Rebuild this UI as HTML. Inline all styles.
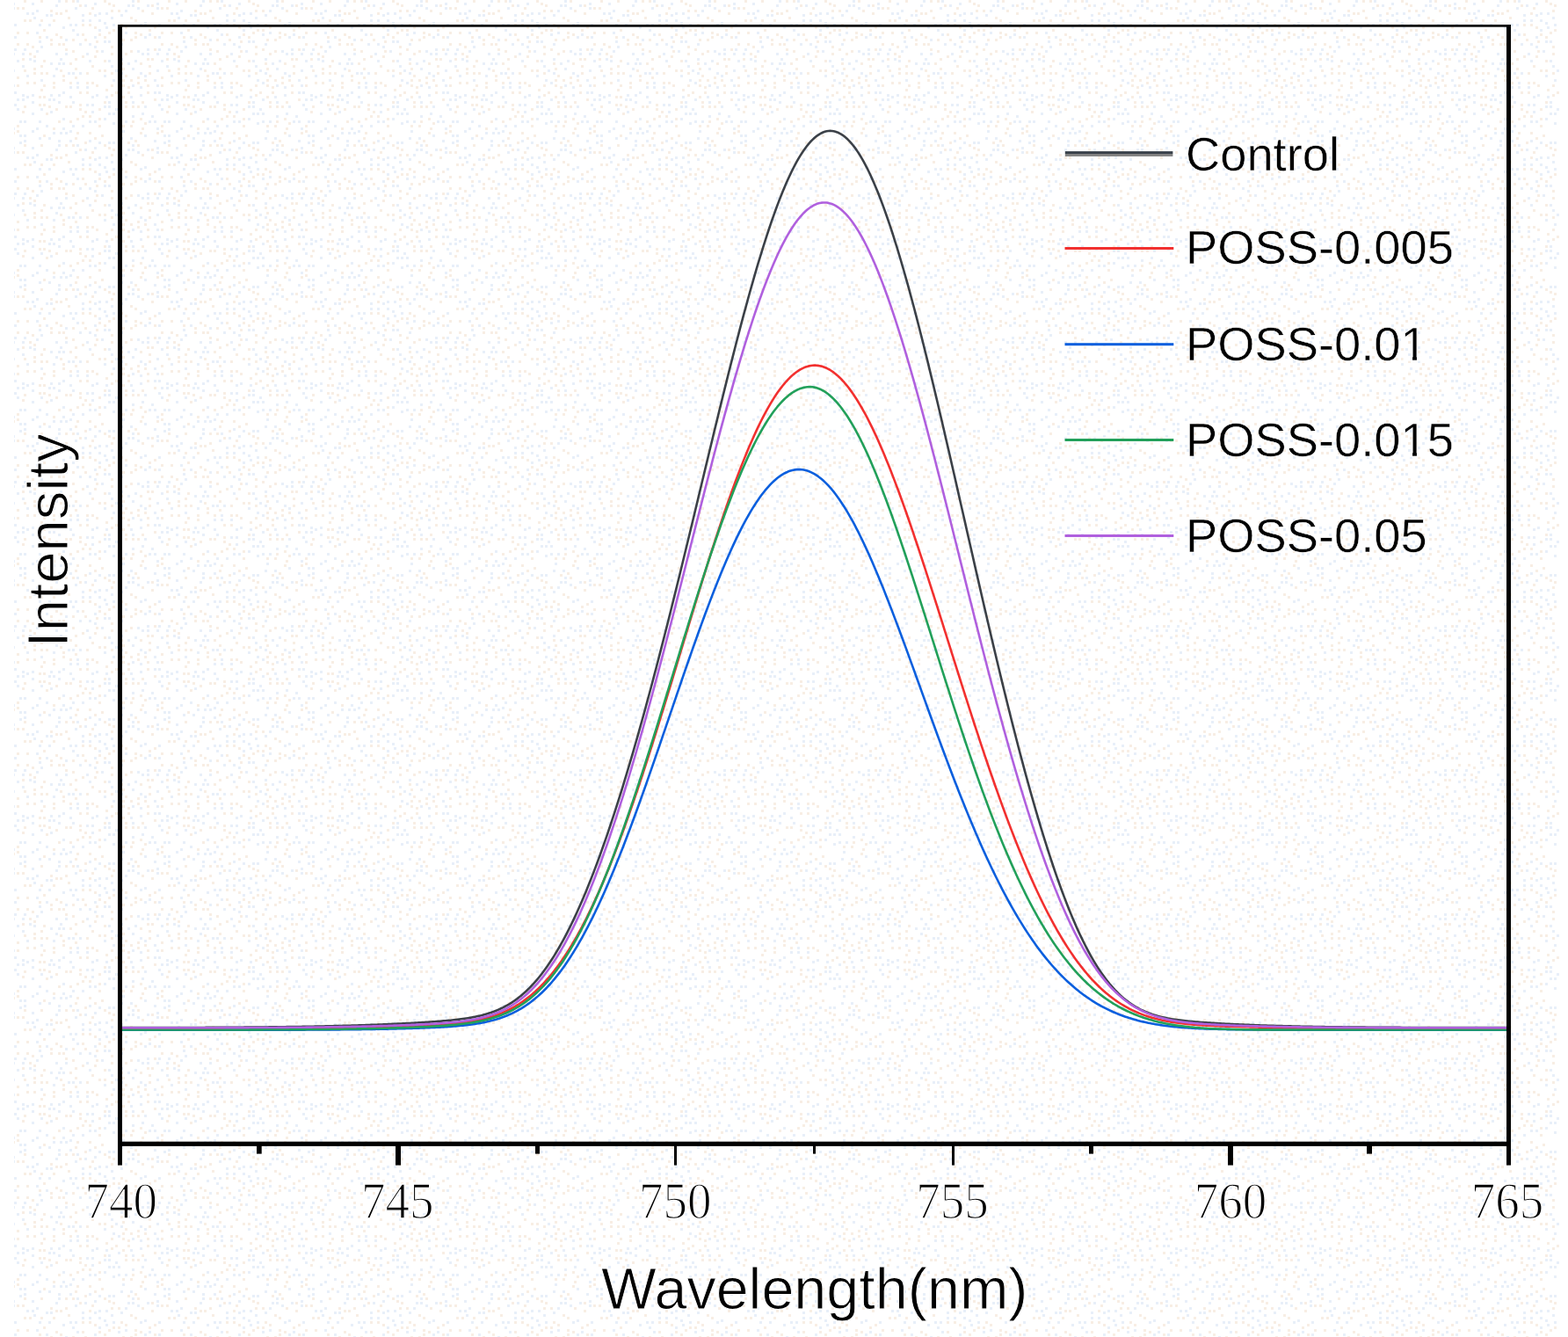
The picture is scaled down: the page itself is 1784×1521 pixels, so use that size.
<!DOCTYPE html>
<html><head><meta charset="utf-8"><title>Intensity vs Wavelength</title>
<style>
html,body{margin:0;padding:0;background:#fff;}
body{width:1784px;height:1521px;overflow:hidden;}
svg{display:block;}
.serif{font-family:"Liberation Serif","Times New Roman",serif;font-size:55px;fill:#000;stroke:#fff;stroke-width:1.3px;paint-order:fill;}
.sans{font-family:"Liberation Sans",Arial,sans-serif;fill:#000;}
</style></head>
<body>
<svg width="1784" height="1521" viewBox="0 0 1784 1521">
<defs><pattern id="dots" width="164" height="164" patternUnits="userSpaceOnUse"><rect x="90" y="123" width="3" height="3" fill="#f8eee4"/><rect x="107" y="63" width="3" height="3" fill="#f8eee4"/><rect x="74" y="55" width="3" height="3" fill="#f8eee4"/><rect x="115" y="153" width="3" height="3" fill="#f8eee4"/><rect x="19" y="96" width="3" height="3" fill="#f8eee4"/><rect x="27" y="120" width="3" height="3" fill="#f8eee4"/><rect x="57" y="49" width="3" height="3" fill="#f8eee4"/><rect x="25" y="107" width="3" height="3" fill="#e8eff9"/><rect x="46" y="74" width="3" height="3" fill="#f8eee4"/><rect x="68" y="41" width="3" height="3" fill="#f8eee4"/><rect x="85" y="77" width="3" height="3" fill="#f8eee4"/><rect x="150" y="77" width="3" height="3" fill="#e8eff9"/><rect x="60" y="150" width="3" height="3" fill="#e8eff9"/><rect x="0" y="153" width="3" height="3" fill="#e8eff9"/><rect x="145" y="98" width="3" height="3" fill="#f8eee4"/><rect x="139" y="109" width="3" height="3" fill="#f8eee4"/><rect x="96" y="161" width="3" height="3" fill="#f8eee4"/><rect x="90" y="49" width="3" height="3" fill="#e8eff9"/><rect x="161" y="145" width="3" height="3" fill="#f8eee4"/><rect x="66" y="115" width="3" height="3" fill="#e8eff9"/><rect x="159" y="98" width="3" height="3" fill="#e8eff9"/><rect x="68" y="66" width="3" height="3" fill="#e8eff9"/><rect x="93" y="16" width="3" height="3" fill="#e8eff9"/><rect x="3" y="96" width="3" height="3" fill="#f8eee4"/><rect x="107" y="52" width="3" height="3" fill="#e8eff9"/><rect x="159" y="134" width="3" height="3" fill="#f8eee4"/><rect x="33" y="60" width="3" height="3" fill="#f8eee4"/><rect x="63" y="77" width="3" height="3" fill="#e8eff9"/><rect x="60" y="93" width="3" height="3" fill="#f8eee4"/><rect x="49" y="153" width="3" height="3" fill="#f8eee4"/><rect x="46" y="90" width="3" height="3" fill="#e8eff9"/><rect x="0" y="41" width="3" height="3" fill="#e8eff9"/><rect x="85" y="66" width="3" height="3" fill="#f8eee4"/><rect x="16" y="55" width="3" height="3" fill="#e8eff9"/><rect x="123" y="115" width="3" height="3" fill="#e8eff9"/><rect x="98" y="93" width="3" height="3" fill="#f8eee4"/><rect x="74" y="120" width="3" height="3" fill="#f8eee4"/><rect x="123" y="3" width="3" height="3" fill="#f8eee4"/><rect x="11" y="104" width="3" height="3" fill="#e8eff9"/><rect x="52" y="128" width="3" height="3" fill="#f8eee4"/><rect x="161" y="60" width="3" height="3" fill="#e8eff9"/><rect x="120" y="14" width="3" height="3" fill="#e8eff9"/><rect x="118" y="79" width="3" height="3" fill="#f8eee4"/><rect x="123" y="46" width="3" height="3" fill="#e8eff9"/><rect x="68" y="79" width="3" height="3" fill="#f8eee4"/><rect x="5" y="74" width="3" height="3" fill="#f8eee4"/><rect x="90" y="82" width="3" height="3" fill="#e8eff9"/><rect x="14" y="96" width="3" height="3" fill="#e8eff9"/><rect x="101" y="14" width="3" height="3" fill="#f8eee4"/><rect x="148" y="109" width="3" height="3" fill="#e8eff9"/><rect x="128" y="128" width="3" height="3" fill="#e8eff9"/><rect x="11" y="112" width="3" height="3" fill="#f8eee4"/><rect x="98" y="60" width="3" height="3" fill="#e8eff9"/><rect x="46" y="101" width="3" height="3" fill="#f8eee4"/><rect x="120" y="30" width="3" height="3" fill="#e8eff9"/><rect x="27" y="79" width="3" height="3" fill="#f8eee4"/><rect x="118" y="85" width="3" height="3" fill="#e8eff9"/><rect x="131" y="79" width="3" height="3" fill="#e8eff9"/><rect x="14" y="79" width="3" height="3" fill="#e8eff9"/><rect x="52" y="142" width="3" height="3" fill="#e8eff9"/><rect x="14" y="3" width="3" height="3" fill="#e8eff9"/><rect x="112" y="142" width="3" height="3" fill="#f8eee4"/><rect x="27" y="55" width="3" height="3" fill="#e8eff9"/><rect x="96" y="44" width="3" height="3" fill="#f8eee4"/><rect x="38" y="93" width="3" height="3" fill="#f8eee4"/><rect x="57" y="71" width="3" height="3" fill="#e8eff9"/><rect x="82" y="0" width="3" height="3" fill="#f8eee4"/><rect x="36" y="107" width="3" height="3" fill="#e8eff9"/><rect x="107" y="137" width="3" height="3" fill="#e8eff9"/><rect x="38" y="82" width="3" height="3" fill="#f8eee4"/><rect x="3" y="5" width="3" height="3" fill="#e8eff9"/><rect x="142" y="137" width="3" height="3" fill="#e8eff9"/><rect x="63" y="5" width="3" height="3" fill="#e8eff9"/><rect x="142" y="85" width="3" height="3" fill="#f8eee4"/><rect x="112" y="38" width="3" height="3" fill="#f8eee4"/><rect x="112" y="33" width="3" height="3" fill="#e8eff9"/><rect x="145" y="161" width="3" height="3" fill="#f8eee4"/><rect x="142" y="60" width="3" height="3" fill="#f8eee4"/><rect x="0" y="120" width="3" height="3" fill="#e8eff9"/><rect x="38" y="19" width="3" height="3" fill="#e8eff9"/><rect x="153" y="41" width="3" height="3" fill="#f8eee4"/><rect x="150" y="131" width="3" height="3" fill="#e8eff9"/><rect x="134" y="11" width="3" height="3" fill="#f8eee4"/><rect x="49" y="109" width="3" height="3" fill="#f8eee4"/><rect x="96" y="5" width="3" height="3" fill="#e8eff9"/><rect x="87" y="98" width="3" height="3" fill="#e8eff9"/><rect x="44" y="118" width="3" height="3" fill="#f8eee4"/><rect x="104" y="8" width="3" height="3" fill="#f8eee4"/><rect x="112" y="134" width="3" height="3" fill="#f8eee4"/><rect x="137" y="71" width="3" height="3" fill="#f8eee4"/><rect x="126" y="52" width="3" height="3" fill="#f8eee4"/><rect x="3" y="66" width="3" height="3" fill="#f8eee4"/><rect x="118" y="115" width="3" height="3" fill="#f8eee4"/><rect x="11" y="137" width="3" height="3" fill="#e8eff9"/><rect x="107" y="41" width="3" height="3" fill="#e8eff9"/><rect x="134" y="137" width="3" height="3" fill="#e8eff9"/><rect x="90" y="104" width="3" height="3" fill="#f8eee4"/><rect x="30" y="85" width="3" height="3" fill="#e8eff9"/><rect x="150" y="0" width="3" height="3" fill="#e8eff9"/><rect x="101" y="137" width="3" height="3" fill="#e8eff9"/><rect x="25" y="112" width="3" height="3" fill="#e8eff9"/><rect x="93" y="142" width="3" height="3" fill="#e8eff9"/><rect x="46" y="0" width="3" height="3" fill="#f8eee4"/><rect x="131" y="123" width="3" height="3" fill="#e8eff9"/><rect x="74" y="0" width="3" height="3" fill="#f8eee4"/><rect x="71" y="71" width="3" height="3" fill="#e8eff9"/><rect x="19" y="49" width="3" height="3" fill="#f8eee4"/><rect x="38" y="77" width="3" height="3" fill="#f8eee4"/><rect x="66" y="159" width="3" height="3" fill="#e8eff9"/><rect x="74" y="11" width="3" height="3" fill="#f8eee4"/><rect x="8" y="5" width="3" height="3" fill="#f8eee4"/><rect x="139" y="90" width="3" height="3" fill="#f8eee4"/><rect x="150" y="137" width="3" height="3" fill="#f8eee4"/><rect x="77" y="19" width="3" height="3" fill="#f8eee4"/><rect x="0" y="25" width="3" height="3" fill="#e8eff9"/><rect x="126" y="19" width="3" height="3" fill="#e8eff9"/><rect x="101" y="131" width="3" height="3" fill="#f8eee4"/><rect x="30" y="36" width="3" height="3" fill="#f8eee4"/><rect x="30" y="49" width="3" height="3" fill="#f8eee4"/><rect x="112" y="123" width="3" height="3" fill="#f8eee4"/><rect x="87" y="93" width="3" height="3" fill="#e8eff9"/><rect x="118" y="46" width="3" height="3" fill="#e8eff9"/><rect x="126" y="96" width="3" height="3" fill="#f8eee4"/><rect x="36" y="115" width="3" height="3" fill="#e8eff9"/><rect x="93" y="131" width="3" height="3" fill="#f8eee4"/><rect x="27" y="137" width="3" height="3" fill="#e8eff9"/><rect x="55" y="120" width="3" height="3" fill="#f8eee4"/><rect x="87" y="150" width="3" height="3" fill="#f8eee4"/><rect x="156" y="87" width="3" height="3" fill="#f8eee4"/><rect x="107" y="156" width="3" height="3" fill="#f8eee4"/><rect x="82" y="115" width="3" height="3" fill="#e8eff9"/><rect x="27" y="22" width="3" height="3" fill="#f8eee4"/><rect x="139" y="148" width="3" height="3" fill="#e8eff9"/><rect x="46" y="82" width="3" height="3" fill="#f8eee4"/><rect x="137" y="16" width="3" height="3" fill="#e8eff9"/><rect x="60" y="22" width="3" height="3" fill="#f8eee4"/><rect x="8" y="131" width="3" height="3" fill="#e8eff9"/><rect x="134" y="93" width="3" height="3" fill="#e8eff9"/><rect x="36" y="52" width="3" height="3" fill="#f8eee4"/><rect x="25" y="8" width="3" height="3" fill="#f8eee4"/><rect x="159" y="82" width="3" height="3" fill="#e8eff9"/><rect x="8" y="14" width="3" height="3" fill="#f8eee4"/><rect x="82" y="57" width="3" height="3" fill="#f8eee4"/><rect x="0" y="85" width="3" height="3" fill="#e8eff9"/><rect x="145" y="71" width="3" height="3" fill="#e8eff9"/><rect x="142" y="36" width="3" height="3" fill="#e8eff9"/><rect x="96" y="126" width="3" height="3" fill="#f8eee4"/><rect x="101" y="150" width="3" height="3" fill="#f8eee4"/><rect x="90" y="118" width="3" height="3" fill="#f8eee4"/><rect x="139" y="77" width="3" height="3" fill="#f8eee4"/><rect x="93" y="22" width="3" height="3" fill="#e8eff9"/><rect x="14" y="145" width="3" height="3" fill="#e8eff9"/><rect x="142" y="11" width="3" height="3" fill="#e8eff9"/><rect x="19" y="87" width="3" height="3" fill="#f8eee4"/><rect x="118" y="68" width="3" height="3" fill="#f8eee4"/><rect x="30" y="109" width="3" height="3" fill="#e8eff9"/><rect x="85" y="27" width="3" height="3" fill="#e8eff9"/><rect x="63" y="38" width="3" height="3" fill="#f8eee4"/><rect x="44" y="27" width="3" height="3" fill="#e8eff9"/><rect x="16" y="41" width="3" height="3" fill="#e8eff9"/><rect x="87" y="134" width="3" height="3" fill="#f8eee4"/><rect x="82" y="44" width="3" height="3" fill="#f8eee4"/><rect x="79" y="109" width="3" height="3" fill="#e8eff9"/><rect x="82" y="82" width="3" height="3" fill="#e8eff9"/><rect x="120" y="101" width="3" height="3" fill="#f8eee4"/><rect x="150" y="96" width="3" height="3" fill="#e8eff9"/><rect x="128" y="90" width="3" height="3" fill="#e8eff9"/><rect x="137" y="156" width="3" height="3" fill="#e8eff9"/><rect x="139" y="44" width="3" height="3" fill="#f8eee4"/><rect x="159" y="27" width="3" height="3" fill="#e8eff9"/><rect x="128" y="27" width="3" height="3" fill="#e8eff9"/><rect x="36" y="128" width="3" height="3" fill="#e8eff9"/><rect x="57" y="16" width="3" height="3" fill="#e8eff9"/><rect x="148" y="90" width="3" height="3" fill="#f8eee4"/><rect x="126" y="107" width="3" height="3" fill="#f8eee4"/><rect x="101" y="159" width="3" height="3" fill="#e8eff9"/><rect x="3" y="55" width="3" height="3" fill="#e8eff9"/><rect x="41" y="36" width="3" height="3" fill="#e8eff9"/><rect x="25" y="60" width="3" height="3" fill="#e8eff9"/><rect x="14" y="150" width="3" height="3" fill="#f8eee4"/><rect x="109" y="96" width="3" height="3" fill="#f8eee4"/><rect x="55" y="156" width="3" height="3" fill="#e8eff9"/><rect x="148" y="44" width="3" height="3" fill="#f8eee4"/><rect x="66" y="71" width="3" height="3" fill="#e8eff9"/><rect x="153" y="68" width="3" height="3" fill="#e8eff9"/><rect x="36" y="14" width="3" height="3" fill="#e8eff9"/><rect x="19" y="112" width="3" height="3" fill="#e8eff9"/><rect x="71" y="30" width="3" height="3" fill="#e8eff9"/><rect x="66" y="0" width="3" height="3" fill="#e8eff9"/><rect x="104" y="93" width="3" height="3" fill="#f8eee4"/><rect x="19" y="8" width="3" height="3" fill="#f8eee4"/><rect x="57" y="126" width="3" height="3" fill="#e8eff9"/><rect x="27" y="0" width="3" height="3" fill="#f8eee4"/><rect x="109" y="107" width="3" height="3" fill="#e8eff9"/><rect x="5" y="38" width="3" height="3" fill="#e8eff9"/><rect x="66" y="49" width="3" height="3" fill="#f8eee4"/><rect x="19" y="36" width="3" height="3" fill="#f8eee4"/><rect x="11" y="41" width="3" height="3" fill="#f8eee4"/><rect x="14" y="8" width="3" height="3" fill="#e8eff9"/><rect x="156" y="120" width="3" height="3" fill="#f8eee4"/><rect x="126" y="82" width="3" height="3" fill="#f8eee4"/><rect x="107" y="30" width="3" height="3" fill="#f8eee4"/><rect x="36" y="148" width="3" height="3" fill="#e8eff9"/><rect x="63" y="60" width="3" height="3" fill="#e8eff9"/><rect x="107" y="16" width="3" height="3" fill="#e8eff9"/><rect x="134" y="38" width="3" height="3" fill="#e8eff9"/><rect x="33" y="66" width="3" height="3" fill="#e8eff9"/><rect x="109" y="57" width="3" height="3" fill="#f8eee4"/><rect x="134" y="112" width="3" height="3" fill="#e8eff9"/><rect x="150" y="5" width="3" height="3" fill="#e8eff9"/><rect x="3" y="104" width="3" height="3" fill="#f8eee4"/><rect x="44" y="156" width="3" height="3" fill="#e8eff9"/><rect x="68" y="150" width="3" height="3" fill="#e8eff9"/><rect x="145" y="5" width="3" height="3" fill="#e8eff9"/><rect x="112" y="79" width="3" height="3" fill="#f8eee4"/><rect x="60" y="85" width="3" height="3" fill="#e8eff9"/><rect x="90" y="5" width="3" height="3" fill="#f8eee4"/><rect x="159" y="107" width="3" height="3" fill="#e8eff9"/><rect x="44" y="137" width="3" height="3" fill="#e8eff9"/><rect x="11" y="90" width="3" height="3" fill="#e8eff9"/><rect x="101" y="27" width="3" height="3" fill="#f8eee4"/><rect x="27" y="153" width="3" height="3" fill="#e8eff9"/><rect x="5" y="82" width="3" height="3" fill="#f8eee4"/><rect x="128" y="33" width="3" height="3" fill="#f8eee4"/><rect x="22" y="153" width="3" height="3" fill="#e8eff9"/><rect x="79" y="98" width="3" height="3" fill="#e8eff9"/><rect x="148" y="57" width="3" height="3" fill="#f8eee4"/><rect x="60" y="112" width="3" height="3" fill="#e8eff9"/><rect x="33" y="22" width="3" height="3" fill="#f8eee4"/><rect x="123" y="120" width="3" height="3" fill="#e8eff9"/><rect x="128" y="139" width="3" height="3" fill="#e8eff9"/><rect x="123" y="128" width="3" height="3" fill="#e8eff9"/><rect x="25" y="126" width="3" height="3" fill="#f8eee4"/><rect x="19" y="68" width="3" height="3" fill="#e8eff9"/><rect x="49" y="33" width="3" height="3" fill="#f8eee4"/><rect x="93" y="27" width="3" height="3" fill="#f8eee4"/><rect x="71" y="85" width="3" height="3" fill="#f8eee4"/><rect x="11" y="55" width="3" height="3" fill="#f8eee4"/><rect x="128" y="5" width="3" height="3" fill="#f8eee4"/><rect x="104" y="118" width="3" height="3" fill="#e8eff9"/><rect x="38" y="63" width="3" height="3" fill="#f8eee4"/><rect x="112" y="22" width="3" height="3" fill="#e8eff9"/><rect x="19" y="148" width="3" height="3" fill="#f8eee4"/><rect x="150" y="115" width="3" height="3" fill="#e8eff9"/><rect x="79" y="159" width="3" height="3" fill="#e8eff9"/><rect x="93" y="38" width="3" height="3" fill="#f8eee4"/><rect x="16" y="118" width="3" height="3" fill="#e8eff9"/><rect x="41" y="57" width="3" height="3" fill="#e8eff9"/><rect x="137" y="27" width="3" height="3" fill="#f8eee4"/><rect x="22" y="137" width="3" height="3" fill="#e8eff9"/><rect x="46" y="123" width="3" height="3" fill="#e8eff9"/><rect x="46" y="22" width="3" height="3" fill="#f8eee4"/><rect x="0" y="139" width="3" height="3" fill="#f8eee4"/><rect x="118" y="0" width="3" height="3" fill="#f8eee4"/><rect x="87" y="38" width="3" height="3" fill="#e8eff9"/><rect x="79" y="71" width="3" height="3" fill="#f8eee4"/><rect x="30" y="14" width="3" height="3" fill="#e8eff9"/><rect x="150" y="120" width="3" height="3" fill="#f8eee4"/><rect x="71" y="90" width="3" height="3" fill="#f8eee4"/><rect x="104" y="126" width="3" height="3" fill="#e8eff9"/><rect x="120" y="109" width="3" height="3" fill="#e8eff9"/><rect x="148" y="142" width="3" height="3" fill="#f8eee4"/><rect x="156" y="8" width="3" height="3" fill="#e8eff9"/><rect x="126" y="60" width="3" height="3" fill="#f8eee4"/><rect x="57" y="107" width="3" height="3" fill="#e8eff9"/><rect x="74" y="150" width="3" height="3" fill="#e8eff9"/><rect x="44" y="41" width="3" height="3" fill="#f8eee4"/><rect x="161" y="11" width="3" height="3" fill="#f8eee4"/><rect x="153" y="36" width="3" height="3" fill="#f8eee4"/><rect x="30" y="93" width="3" height="3" fill="#f8eee4"/><rect x="153" y="159" width="3" height="3" fill="#f8eee4"/><rect x="22" y="161" width="3" height="3" fill="#e8eff9"/><rect x="98" y="82" width="3" height="3" fill="#f8eee4"/><rect x="87" y="0" width="3" height="3" fill="#e8eff9"/><rect x="82" y="33" width="3" height="3" fill="#e8eff9"/><rect x="44" y="46" width="3" height="3" fill="#e8eff9"/><rect x="11" y="159" width="3" height="3" fill="#e8eff9"/><rect x="115" y="57" width="3" height="3" fill="#e8eff9"/><rect x="68" y="14" width="3" height="3" fill="#f8eee4"/><rect x="159" y="150" width="3" height="3" fill="#f8eee4"/><rect x="128" y="161" width="3" height="3" fill="#e8eff9"/><rect x="139" y="96" width="3" height="3" fill="#f8eee4"/><rect x="107" y="3" width="3" height="3" fill="#e8eff9"/><rect x="98" y="104" width="3" height="3" fill="#f8eee4"/><rect x="112" y="161" width="3" height="3" fill="#e8eff9"/><rect x="123" y="161" width="3" height="3" fill="#e8eff9"/><rect x="71" y="145" width="3" height="3" fill="#e8eff9"/><rect x="74" y="60" width="3" height="3" fill="#e8eff9"/><rect x="85" y="8" width="3" height="3" fill="#e8eff9"/><rect x="44" y="109" width="3" height="3" fill="#f8eee4"/><rect x="101" y="68" width="3" height="3" fill="#e8eff9"/><rect x="52" y="41" width="3" height="3" fill="#e8eff9"/><rect x="52" y="82" width="3" height="3" fill="#f8eee4"/><rect x="123" y="68" width="3" height="3" fill="#e8eff9"/><rect x="118" y="25" width="3" height="3" fill="#e8eff9"/><rect x="79" y="120" width="3" height="3" fill="#f8eee4"/><rect x="145" y="104" width="3" height="3" fill="#f8eee4"/><rect x="112" y="14" width="3" height="3" fill="#e8eff9"/><rect x="5" y="137" width="3" height="3" fill="#e8eff9"/><rect x="16" y="27" width="3" height="3" fill="#e8eff9"/><rect x="79" y="148" width="3" height="3" fill="#e8eff9"/><rect x="66" y="137" width="3" height="3" fill="#f8eee4"/><rect x="66" y="107" width="3" height="3" fill="#e8eff9"/><rect x="3" y="60" width="3" height="3" fill="#e8eff9"/><rect x="74" y="44" width="3" height="3" fill="#e8eff9"/><rect x="161" y="115" width="3" height="3" fill="#f8eee4"/><rect x="159" y="38" width="3" height="3" fill="#f8eee4"/><rect x="79" y="27" width="3" height="3" fill="#e8eff9"/><rect x="142" y="30" width="3" height="3" fill="#f8eee4"/><rect x="14" y="60" width="3" height="3" fill="#e8eff9"/><rect x="25" y="66" width="3" height="3" fill="#f8eee4"/><rect x="104" y="74" width="3" height="3" fill="#f8eee4"/><rect x="98" y="118" width="3" height="3" fill="#e8eff9"/><rect x="71" y="49" width="3" height="3" fill="#f8eee4"/><rect x="57" y="44" width="3" height="3" fill="#f8eee4"/><rect x="101" y="22" width="3" height="3" fill="#e8eff9"/><rect x="126" y="11" width="3" height="3" fill="#f8eee4"/><rect x="55" y="27" width="3" height="3" fill="#e8eff9"/><rect x="161" y="128" width="3" height="3" fill="#e8eff9"/><rect x="71" y="134" width="3" height="3" fill="#e8eff9"/><rect x="82" y="142" width="3" height="3" fill="#e8eff9"/><rect x="8" y="66" width="3" height="3" fill="#f8eee4"/><rect x="153" y="22" width="3" height="3" fill="#f8eee4"/><rect x="85" y="156" width="3" height="3" fill="#f8eee4"/><rect x="134" y="55" width="3" height="3" fill="#f8eee4"/><rect x="79" y="137" width="3" height="3" fill="#f8eee4"/><rect x="63" y="123" width="3" height="3" fill="#f8eee4"/><rect x="0" y="90" width="3" height="3" fill="#f8eee4"/><rect x="27" y="159" width="3" height="3" fill="#e8eff9"/><rect x="142" y="115" width="3" height="3" fill="#f8eee4"/><rect x="25" y="74" width="3" height="3" fill="#e8eff9"/><rect x="36" y="3" width="3" height="3" fill="#e8eff9"/><rect x="139" y="142" width="3" height="3" fill="#f8eee4"/><rect x="148" y="156" width="3" height="3" fill="#e8eff9"/><rect x="11" y="30" width="3" height="3" fill="#f8eee4"/><rect x="85" y="87" width="3" height="3" fill="#f8eee4"/><rect x="19" y="123" width="3" height="3" fill="#e8eff9"/><rect x="156" y="57" width="3" height="3" fill="#e8eff9"/><rect x="134" y="128" width="3" height="3" fill="#e8eff9"/><rect x="142" y="120" width="3" height="3" fill="#f8eee4"/><rect x="137" y="82" width="3" height="3" fill="#e8eff9"/><rect x="93" y="63" width="3" height="3" fill="#f8eee4"/><rect x="52" y="16" width="3" height="3" fill="#e8eff9"/><rect x="159" y="71" width="3" height="3" fill="#f8eee4"/><rect x="19" y="142" width="3" height="3" fill="#f8eee4"/><rect x="104" y="109" width="3" height="3" fill="#e8eff9"/><rect x="137" y="49" width="3" height="3" fill="#e8eff9"/><rect x="41" y="145" width="3" height="3" fill="#e8eff9"/><rect x="156" y="0" width="3" height="3" fill="#f8eee4"/><rect x="123" y="36" width="3" height="3" fill="#f8eee4"/><rect x="57" y="11" width="3" height="3" fill="#f8eee4"/><rect x="126" y="74" width="3" height="3" fill="#e8eff9"/><rect x="55" y="112" width="3" height="3" fill="#e8eff9"/><rect x="49" y="118" width="3" height="3" fill="#f8eee4"/><rect x="77" y="82" width="3" height="3" fill="#e8eff9"/><rect x="118" y="41" width="3" height="3" fill="#f8eee4"/><rect x="46" y="52" width="3" height="3" fill="#e8eff9"/><rect x="98" y="98" width="3" height="3" fill="#e8eff9"/><rect x="41" y="11" width="3" height="3" fill="#e8eff9"/><rect x="101" y="49" width="3" height="3" fill="#e8eff9"/><rect x="63" y="14" width="3" height="3" fill="#f8eee4"/><rect x="49" y="96" width="3" height="3" fill="#f8eee4"/><rect x="79" y="93" width="3" height="3" fill="#f8eee4"/><rect x="71" y="104" width="3" height="3" fill="#e8eff9"/><rect x="137" y="66" width="3" height="3" fill="#e8eff9"/><rect x="131" y="104" width="3" height="3" fill="#f8eee4"/><rect x="49" y="68" width="3" height="3" fill="#f8eee4"/><rect x="38" y="68" width="3" height="3" fill="#e8eff9"/><rect x="16" y="104" width="3" height="3" fill="#e8eff9"/><rect x="148" y="19" width="3" height="3" fill="#f8eee4"/><rect x="118" y="134" width="3" height="3" fill="#e8eff9"/><rect x="156" y="93" width="3" height="3" fill="#f8eee4"/><rect x="60" y="98" width="3" height="3" fill="#f8eee4"/><rect x="5" y="33" width="3" height="3" fill="#f8eee4"/><rect x="134" y="33" width="3" height="3" fill="#f8eee4"/><rect x="60" y="145" width="3" height="3" fill="#f8eee4"/><rect x="109" y="46" width="3" height="3" fill="#f8eee4"/><rect x="118" y="120" width="3" height="3" fill="#e8eff9"/></pattern></defs>
<rect width="1784" height="1521" fill="#fff"/>
<rect x="16" y="0" width="1758" height="1521" fill="url(#dots)"/>
<g id="curves">
<path d="M136.5,1169.14 L138.5,1169.14 L140.5,1169.14 L142.5,1169.14 L144.5,1169.13 L146.5,1169.13 L148.5,1169.13 L150.5,1169.13 L152.5,1169.12 L154.5,1169.12 L156.5,1169.12 L158.5,1169.12 L160.5,1169.11 L162.5,1169.11 L164.5,1169.11 L166.5,1169.10 L168.5,1169.10 L170.5,1169.10 L172.5,1169.09 L174.5,1169.09 L176.5,1169.09 L178.5,1169.08 L180.5,1169.08 L182.5,1169.08 L184.5,1169.07 L186.5,1169.07 L188.5,1169.06 L190.5,1169.06 L192.5,1169.05 L194.5,1169.05 L196.5,1169.04 L198.5,1169.04 L200.5,1169.03 L202.5,1169.03 L204.5,1169.02 L206.5,1169.02 L208.5,1169.01 L210.5,1169.01 L212.5,1169.00 L214.5,1168.99 L216.5,1168.99 L218.5,1168.98 L220.5,1168.97 L222.5,1168.97 L224.5,1168.96 L226.5,1168.95 L228.5,1168.94 L230.5,1168.94 L232.5,1168.93 L234.5,1168.92 L236.5,1168.91 L238.5,1168.90 L240.5,1168.89 L242.5,1168.88 L244.5,1168.87 L246.5,1168.86 L248.5,1168.85 L250.5,1168.84 L252.5,1168.83 L254.5,1168.82 L256.5,1168.81 L258.5,1168.80 L260.5,1168.79 L262.5,1168.78 L264.5,1168.76 L266.5,1168.75 L268.5,1168.74 L270.5,1168.72 L272.5,1168.71 L274.5,1168.70 L276.5,1168.68 L278.5,1168.67 L280.5,1168.65 L282.5,1168.64 L284.5,1168.62 L286.5,1168.60 L288.5,1168.59 L290.5,1168.57 L292.5,1168.55 L294.5,1168.53 L296.5,1168.51 L298.5,1168.49 L300.5,1168.47 L302.5,1168.45 L304.5,1168.43 L306.5,1168.41 L308.5,1168.39 L310.5,1168.37 L312.5,1168.35 L314.5,1168.32 L316.5,1168.30 L318.5,1168.28 L320.5,1168.25 L322.5,1168.22 L324.5,1168.20 L326.5,1168.17 L328.5,1168.14 L330.5,1168.12 L332.5,1168.09 L334.5,1168.06 L336.5,1168.03 L338.5,1168.00 L340.5,1167.97 L342.5,1167.93 L344.5,1167.90 L346.5,1167.87 L348.5,1167.83 L350.5,1167.80 L352.5,1167.76 L354.5,1167.73 L356.5,1167.69 L358.5,1167.65 L360.5,1167.61 L362.5,1167.57 L364.5,1167.53 L366.5,1167.49 L368.5,1167.45 L370.5,1167.40 L372.5,1167.36 L374.5,1167.31 L376.5,1167.27 L378.5,1167.22 L380.5,1167.17 L382.5,1167.12 L384.5,1167.07 L386.5,1167.02 L388.5,1166.97 L390.5,1166.92 L392.5,1166.86 L394.5,1166.81 L396.5,1166.75 L398.5,1166.69 L400.5,1166.63 L402.5,1166.57 L404.5,1166.51 L406.5,1166.45 L408.5,1166.38 L410.5,1166.32 L412.5,1166.25 L414.5,1166.19 L416.5,1166.12 L418.5,1166.05 L420.5,1165.98 L422.5,1165.90 L424.5,1165.83 L426.5,1165.75 L428.5,1165.68 L430.5,1165.60 L432.5,1165.52 L434.5,1165.44 L436.5,1165.36 L438.5,1165.27 L440.5,1165.19 L442.5,1165.10 L444.5,1165.01 L446.5,1164.92 L448.5,1164.83 L450.5,1164.74 L452.5,1164.64 L454.5,1164.55 L456.5,1164.45 L458.5,1164.35 L460.5,1164.25 L462.5,1164.14 L464.5,1164.04 L466.5,1163.93 L468.5,1163.82 L470.5,1163.71 L472.5,1163.60 L474.5,1163.48 L476.5,1163.37 L478.5,1163.25 L480.5,1163.12 L482.5,1163.00 L484.5,1162.87 L486.5,1162.74 L488.5,1162.61 L490.5,1162.47 L492.5,1162.33 L494.5,1162.19 L496.5,1162.04 L498.5,1161.89 L500.5,1161.74 L502.5,1161.58 L504.5,1161.41 L506.5,1161.24 L508.5,1161.06 L510.5,1160.88 L512.5,1160.68 L514.5,1160.48 L516.5,1160.27 L518.5,1160.06 L520.5,1159.83 L522.5,1159.59 L524.5,1159.33 L526.5,1159.07 L528.5,1158.79 L530.5,1158.49 L532.5,1158.18 L534.5,1157.85 L536.5,1157.50 L538.5,1157.13 L540.5,1156.73 L542.5,1156.32 L544.5,1155.88 L546.5,1155.41 L548.5,1154.91 L550.5,1154.38 L552.5,1153.83 L554.5,1153.23 L556.5,1152.60 L558.5,1151.94 L560.5,1151.23 L562.5,1150.49 L564.5,1149.69 L566.5,1148.86 L568.5,1147.98 L570.5,1147.04 L572.5,1146.06 L574.5,1145.02 L576.5,1143.93 L578.5,1142.78 L580.5,1141.57 L582.5,1140.30 L584.5,1138.96 L586.5,1137.56 L588.5,1136.10 L590.5,1134.56 L592.5,1132.96 L594.5,1131.28 L596.5,1129.53 L598.5,1127.71 L600.5,1125.81 L602.5,1123.83 L604.5,1121.77 L606.5,1119.63 L608.5,1117.41 L610.5,1115.11 L612.5,1112.72 L614.5,1110.25 L616.5,1107.69 L618.5,1105.04 L620.5,1102.31 L622.5,1099.49 L624.5,1096.58 L626.5,1093.58 L628.5,1090.50 L630.5,1087.32 L632.5,1084.05 L634.5,1080.69 L636.5,1077.24 L638.5,1073.70 L640.5,1070.07 L642.5,1066.35 L644.5,1062.54 L646.5,1058.63 L648.5,1054.64 L650.5,1050.55 L652.5,1046.38 L654.5,1042.11 L656.5,1037.76 L658.5,1033.32 L660.5,1028.78 L662.5,1024.16 L664.5,1019.45 L666.5,1014.66 L668.5,1009.78 L670.5,1004.81 L672.5,999.76 L674.5,994.62 L676.5,989.40 L678.5,984.09 L680.5,978.70 L682.5,973.23 L684.5,967.68 L686.5,962.05 L688.5,956.34 L690.5,950.55 L692.5,944.68 L694.5,938.73 L696.5,932.71 L698.5,926.62 L700.5,920.44 L702.5,914.20 L704.5,907.88 L706.5,901.49 L708.5,895.03 L710.5,888.49 L712.5,881.89 L714.5,875.22 L716.5,868.49 L718.5,861.68 L720.5,854.81 L722.5,847.88 L724.5,840.88 L726.5,833.82 L728.5,826.70 L730.5,819.52 L732.5,812.29 L734.5,804.99 L736.5,797.64 L738.5,790.23 L740.5,782.76 L742.5,775.25 L744.5,767.68 L746.5,760.06 L748.5,752.40 L750.5,744.68 L752.5,736.92 L754.5,729.12 L756.5,721.27 L758.5,713.38 L760.5,705.45 L762.5,697.48 L764.5,689.47 L766.5,681.43 L768.5,673.35 L770.5,665.25 L772.5,657.11 L774.5,648.95 L776.5,640.76 L778.5,632.54 L780.5,624.31 L782.5,616.05 L784.5,607.78 L786.5,599.49 L788.5,591.19 L790.5,582.87 L792.5,574.55 L794.5,566.22 L796.5,557.89 L798.5,549.56 L800.5,541.23 L802.5,532.90 L804.5,524.58 L806.5,516.27 L808.5,507.97 L810.5,499.69 L812.5,491.42 L814.5,483.18 L816.5,474.96 L818.5,466.76 L820.5,458.60 L822.5,450.47 L824.5,442.37 L826.5,434.32 L828.5,426.31 L830.5,418.34 L832.5,410.42 L834.5,402.56 L836.5,394.75 L838.5,387.01 L840.5,379.32 L842.5,371.70 L844.5,364.16 L846.5,356.68 L848.5,349.29 L850.5,341.97 L852.5,334.74 L854.5,327.59 L856.5,320.54 L858.5,313.58 L860.5,306.72 L862.5,299.96 L864.5,293.31 L866.5,286.77 L868.5,280.34 L870.5,274.02 L872.5,267.83 L874.5,261.76 L876.5,255.81 L878.5,249.99 L880.5,244.31 L882.5,238.76 L884.5,233.36 L886.5,228.09 L888.5,222.97 L890.5,218.00 L892.5,213.18 L894.5,208.52 L896.5,204.01 L898.5,199.67 L900.5,195.48 L902.5,191.46 L904.5,187.61 L906.5,183.93 L908.5,180.43 L910.5,177.10 L912.5,173.94 L914.5,170.97 L916.5,168.17 L918.5,165.56 L920.5,163.14 L922.5,160.90 L924.5,158.84 L926.5,156.98 L928.5,155.31 L930.5,153.83 L932.5,152.54 L934.5,151.45 L936.5,150.55 L938.5,149.84 L940.5,149.33 L942.5,149.02 L944.5,148.90 L946.5,148.98 L948.5,149.26 L950.5,149.73 L952.5,150.41 L954.5,151.28 L956.5,152.34 L958.5,153.60 L960.5,155.06 L962.5,156.71 L964.5,158.55 L966.5,160.59 L968.5,162.82 L970.5,165.23 L972.5,167.84 L974.5,170.63 L976.5,173.61 L978.5,176.77 L980.5,180.11 L982.5,183.64 L984.5,187.34 L986.5,191.21 L988.5,195.26 L990.5,199.48 L992.5,203.87 L994.5,208.42 L996.5,213.14 L998.5,218.02 L1000.5,223.06 L1002.5,228.25 L1004.5,233.59 L1006.5,239.09 L1008.5,244.73 L1010.5,250.51 L1012.5,256.44 L1014.5,262.50 L1016.5,268.69 L1018.5,275.02 L1020.5,281.47 L1022.5,288.05 L1024.5,294.75 L1026.5,301.57 L1028.5,308.50 L1030.5,315.54 L1032.5,322.69 L1034.5,329.94 L1036.5,337.30 L1038.5,344.75 L1040.5,352.29 L1042.5,359.93 L1044.5,367.65 L1046.5,375.45 L1048.5,383.34 L1050.5,391.30 L1052.5,399.33 L1054.5,407.43 L1056.5,415.60 L1058.5,423.83 L1060.5,432.12 L1062.5,440.47 L1064.5,448.87 L1066.5,457.32 L1068.5,465.81 L1070.5,474.35 L1072.5,482.93 L1074.5,491.54 L1076.5,500.19 L1078.5,508.86 L1080.5,517.57 L1082.5,526.29 L1084.5,535.04 L1086.5,543.81 L1088.5,552.59 L1090.5,561.38 L1092.5,570.19 L1094.5,579.00 L1096.5,587.81 L1098.5,596.62 L1100.5,605.43 L1102.5,614.24 L1104.5,623.04 L1106.5,631.83 L1108.5,640.61 L1110.5,649.37 L1112.5,658.11 L1114.5,666.84 L1116.5,675.54 L1118.5,684.21 L1120.5,692.86 L1122.5,701.48 L1124.5,710.07 L1126.5,718.62 L1128.5,727.13 L1130.5,735.61 L1132.5,744.04 L1134.5,752.44 L1136.5,760.78 L1138.5,769.08 L1140.5,777.33 L1142.5,785.52 L1144.5,793.66 L1146.5,801.75 L1148.5,809.77 L1150.5,817.74 L1152.5,825.65 L1154.5,833.49 L1156.5,841.26 L1158.5,848.96 L1160.5,856.60 L1162.5,864.16 L1164.5,871.65 L1166.5,879.07 L1168.5,886.40 L1170.5,893.66 L1172.5,900.83 L1174.5,907.93 L1176.5,914.94 L1178.5,921.86 L1180.5,928.69 L1182.5,935.43 L1184.5,942.09 L1186.5,948.65 L1188.5,955.11 L1190.5,961.48 L1192.5,967.76 L1194.5,973.93 L1196.5,980.00 L1198.5,985.98 L1200.5,991.85 L1202.5,997.61 L1204.5,1003.27 L1206.5,1008.83 L1208.5,1014.28 L1210.5,1019.62 L1212.5,1024.85 L1214.5,1029.97 L1216.5,1034.98 L1218.5,1039.88 L1220.5,1044.66 L1222.5,1049.34 L1224.5,1053.90 L1226.5,1058.35 L1228.5,1062.69 L1230.5,1066.91 L1232.5,1071.02 L1234.5,1075.01 L1236.5,1078.89 L1238.5,1082.66 L1240.5,1086.32 L1242.5,1089.86 L1244.5,1093.29 L1246.5,1096.61 L1248.5,1099.83 L1250.5,1102.93 L1252.5,1105.92 L1254.5,1108.81 L1256.5,1111.59 L1258.5,1114.27 L1260.5,1116.84 L1262.5,1119.32 L1264.5,1121.69 L1266.5,1123.97 L1268.5,1126.15 L1270.5,1128.23 L1272.5,1130.23 L1274.5,1132.13 L1276.5,1133.95 L1278.5,1135.68 L1280.5,1137.33 L1282.5,1138.89 L1284.5,1140.38 L1286.5,1141.80 L1288.5,1143.14 L1290.5,1144.41 L1292.5,1145.61 L1294.5,1146.74 L1296.5,1147.82 L1298.5,1148.83 L1300.5,1149.78 L1302.5,1150.68 L1304.5,1151.53 L1306.5,1152.33 L1308.5,1153.07 L1310.5,1153.78 L1312.5,1154.44 L1314.5,1155.06 L1316.5,1155.64 L1318.5,1156.19 L1320.5,1156.70 L1322.5,1157.18 L1324.5,1157.63 L1326.5,1158.06 L1328.5,1158.45 L1330.5,1158.83 L1332.5,1159.18 L1334.5,1159.51 L1336.5,1159.82 L1338.5,1160.11 L1340.5,1160.39 L1342.5,1160.65 L1344.5,1160.90 L1346.5,1161.13 L1348.5,1161.36 L1350.5,1161.57 L1352.5,1161.77 L1354.5,1161.96 L1356.5,1162.15 L1358.5,1162.33 L1360.5,1162.50 L1362.5,1162.66 L1364.5,1162.82 L1366.5,1162.97 L1368.5,1163.12 L1370.5,1163.26 L1372.5,1163.40 L1374.5,1163.53 L1376.5,1163.66 L1378.5,1163.79 L1380.5,1163.92 L1382.5,1164.04 L1384.5,1164.16 L1386.5,1164.27 L1388.5,1164.38 L1390.5,1164.49 L1392.5,1164.60 L1394.5,1164.71 L1396.5,1164.81 L1398.5,1164.91 L1400.5,1165.01 L1402.5,1165.11 L1404.5,1165.21 L1406.5,1165.30 L1408.5,1165.39 L1410.5,1165.48 L1412.5,1165.57 L1414.5,1165.66 L1416.5,1165.74 L1418.5,1165.82 L1420.5,1165.90 L1422.5,1165.98 L1424.5,1166.06 L1426.5,1166.14 L1428.5,1166.21 L1430.5,1166.29 L1432.5,1166.36 L1434.5,1166.43 L1436.5,1166.50 L1438.5,1166.56 L1440.5,1166.63 L1442.5,1166.70 L1444.5,1166.76 L1446.5,1166.82 L1448.5,1166.88 L1450.5,1166.94 L1452.5,1167.00 L1454.5,1167.06 L1456.5,1167.11 L1458.5,1167.16 L1460.5,1167.22 L1462.5,1167.27 L1464.5,1167.32 L1466.5,1167.37 L1468.5,1167.42 L1470.5,1167.47 L1472.5,1167.51 L1474.5,1167.56 L1476.5,1167.60 L1478.5,1167.64 L1480.5,1167.69 L1482.5,1167.73 L1484.5,1167.77 L1486.5,1167.81 L1488.5,1167.84 L1490.5,1167.88 L1492.5,1167.92 L1494.5,1167.95 L1496.5,1167.99 L1498.5,1168.02 L1500.5,1168.06 L1502.5,1168.09 L1504.5,1168.12 L1506.5,1168.15 L1508.5,1168.18 L1510.5,1168.21 L1512.5,1168.24 L1514.5,1168.26 L1516.5,1168.29 L1518.5,1168.32 L1520.5,1168.34 L1522.5,1168.37 L1524.5,1168.39 L1526.5,1168.42 L1528.5,1168.44 L1530.5,1168.46 L1532.5,1168.48 L1534.5,1168.51 L1536.5,1168.53 L1538.5,1168.55 L1540.5,1168.57 L1542.5,1168.59 L1544.5,1168.60 L1546.5,1168.62 L1548.5,1168.64 L1550.5,1168.66 L1552.5,1168.67 L1554.5,1168.69 L1556.5,1168.71 L1558.5,1168.72 L1560.5,1168.74 L1562.5,1168.75 L1564.5,1168.76 L1566.5,1168.78 L1568.5,1168.79 L1570.5,1168.80 L1572.5,1168.82 L1574.5,1168.83 L1576.5,1168.84 L1578.5,1168.85 L1580.5,1168.86 L1582.5,1168.87 L1584.5,1168.88 L1586.5,1168.89 L1588.5,1168.90 L1590.5,1168.91 L1592.5,1168.92 L1594.5,1168.93 L1596.5,1168.94 L1598.5,1168.95 L1600.5,1168.96 L1602.5,1168.97 L1604.5,1168.97 L1606.5,1168.98 L1608.5,1168.99 L1610.5,1169.00 L1612.5,1169.00 L1614.5,1169.01 L1616.5,1169.02 L1618.5,1169.02 L1620.5,1169.03 L1622.5,1169.03 L1624.5,1169.04 L1626.5,1169.04 L1628.5,1169.05 L1630.5,1169.06 L1632.5,1169.06 L1634.5,1169.07 L1636.5,1169.07 L1638.5,1169.07 L1640.5,1169.08 L1642.5,1169.08 L1644.5,1169.09 L1646.5,1169.09 L1648.5,1169.10 L1650.5,1169.10 L1652.5,1169.10 L1654.5,1169.11 L1656.5,1169.11 L1658.5,1169.11 L1660.5,1169.12 L1662.5,1169.12 L1664.5,1169.12 L1666.5,1169.12 L1668.5,1169.13 L1670.5,1169.13 L1672.5,1169.13 L1674.5,1169.13 L1676.5,1169.14 L1678.5,1169.14 L1680.5,1169.14 L1682.5,1169.14 L1684.5,1169.15 L1686.5,1169.15 L1688.5,1169.15 L1690.5,1169.15 L1692.5,1169.15 L1694.5,1169.16 L1696.5,1169.16 L1698.5,1169.16 L1700.5,1169.16 L1702.5,1169.16 L1704.5,1169.16 L1706.5,1169.16 L1708.5,1169.17 L1710.5,1169.17 L1712.5,1169.17 L1714.5,1169.17 L1716.5,1169.17" fill="none" stroke="#3b4047" stroke-width="2.6" stroke-linejoin="round"/>
<path d="M136.5,1171.80 L138.5,1171.80 L140.5,1171.80 L142.5,1171.80 L144.5,1171.80 L146.5,1171.80 L148.5,1171.80 L150.5,1171.80 L152.5,1171.80 L154.5,1171.80 L156.5,1171.80 L158.5,1171.80 L160.5,1171.80 L162.5,1171.80 L164.5,1171.80 L166.5,1171.80 L168.5,1171.80 L170.5,1171.80 L172.5,1171.80 L174.5,1171.80 L176.5,1171.80 L178.5,1171.80 L180.5,1171.80 L182.5,1171.79 L184.5,1171.79 L186.5,1171.79 L188.5,1171.79 L190.5,1171.79 L192.5,1171.79 L194.5,1171.79 L196.5,1171.79 L198.5,1171.79 L200.5,1171.79 L202.5,1171.79 L204.5,1171.79 L206.5,1171.79 L208.5,1171.79 L210.5,1171.79 L212.5,1171.79 L214.5,1171.79 L216.5,1171.79 L218.5,1171.79 L220.5,1171.79 L222.5,1171.79 L224.5,1171.79 L226.5,1171.78 L228.5,1171.78 L230.5,1171.78 L232.5,1171.78 L234.5,1171.78 L236.5,1171.78 L238.5,1171.78 L240.5,1171.78 L242.5,1171.78 L244.5,1171.78 L246.5,1171.78 L248.5,1171.77 L250.5,1171.77 L252.5,1171.77 L254.5,1171.77 L256.5,1171.77 L258.5,1171.77 L260.5,1171.77 L262.5,1171.76 L264.5,1171.76 L266.5,1171.76 L268.5,1171.76 L270.5,1171.76 L272.5,1171.76 L274.5,1171.75 L276.5,1171.75 L278.5,1171.75 L280.5,1171.75 L282.5,1171.74 L284.5,1171.74 L286.5,1171.74 L288.5,1171.74 L290.5,1171.73 L292.5,1171.73 L294.5,1171.73 L296.5,1171.72 L298.5,1171.72 L300.5,1171.72 L302.5,1171.71 L304.5,1171.71 L306.5,1171.71 L308.5,1171.70 L310.5,1171.70 L312.5,1171.69 L314.5,1171.69 L316.5,1171.68 L318.5,1171.68 L320.5,1171.67 L322.5,1171.67 L324.5,1171.66 L326.5,1171.66 L328.5,1171.65 L330.5,1171.64 L332.5,1171.64 L334.5,1171.63 L336.5,1171.62 L338.5,1171.62 L340.5,1171.61 L342.5,1171.60 L344.5,1171.59 L346.5,1171.58 L348.5,1171.57 L350.5,1171.57 L352.5,1171.56 L354.5,1171.55 L356.5,1171.54 L358.5,1171.53 L360.5,1171.51 L362.5,1171.50 L364.5,1171.49 L366.5,1171.48 L368.5,1171.47 L370.5,1171.45 L372.5,1171.44 L374.5,1171.43 L376.5,1171.41 L378.5,1171.40 L380.5,1171.38 L382.5,1171.37 L384.5,1171.35 L386.5,1171.33 L388.5,1171.31 L390.5,1171.30 L392.5,1171.28 L394.5,1171.26 L396.5,1171.24 L398.5,1171.22 L400.5,1171.19 L402.5,1171.17 L404.5,1171.15 L406.5,1171.13 L408.5,1171.10 L410.5,1171.08 L412.5,1171.05 L414.5,1171.02 L416.5,1170.99 L418.5,1170.97 L420.5,1170.94 L422.5,1170.91 L424.5,1170.87 L426.5,1170.84 L428.5,1170.81 L430.5,1170.77 L432.5,1170.74 L434.5,1170.70 L436.5,1170.67 L438.5,1170.63 L440.5,1170.59 L442.5,1170.55 L444.5,1170.50 L446.5,1170.46 L448.5,1170.41 L450.5,1170.37 L452.5,1170.32 L454.5,1170.27 L456.5,1170.22 L458.5,1170.17 L460.5,1170.12 L462.5,1170.06 L464.5,1170.00 L466.5,1169.94 L468.5,1169.88 L470.5,1169.82 L472.5,1169.76 L474.5,1169.69 L476.5,1169.62 L478.5,1169.55 L480.5,1169.48 L482.5,1169.40 L484.5,1169.32 L486.5,1169.24 L488.5,1169.16 L490.5,1169.07 L492.5,1168.98 L494.5,1168.89 L496.5,1168.79 L498.5,1168.68 L500.5,1168.58 L502.5,1168.47 L504.5,1168.35 L506.5,1168.23 L508.5,1168.10 L510.5,1167.97 L512.5,1167.83 L514.5,1167.68 L516.5,1167.53 L518.5,1167.37 L520.5,1167.20 L522.5,1167.02 L524.5,1166.83 L526.5,1166.63 L528.5,1166.41 L530.5,1166.19 L532.5,1165.95 L534.5,1165.71 L536.5,1165.44 L538.5,1165.16 L540.5,1164.87 L542.5,1164.55 L544.5,1164.22 L546.5,1163.87 L548.5,1163.50 L550.5,1163.11 L552.5,1162.69 L554.5,1162.25 L556.5,1161.79 L558.5,1161.30 L560.5,1160.78 L562.5,1160.23 L564.5,1159.65 L566.5,1159.04 L568.5,1158.40 L570.5,1157.72 L572.5,1157.00 L574.5,1156.25 L576.5,1155.46 L578.5,1154.63 L580.5,1153.76 L582.5,1152.84 L584.5,1151.87 L586.5,1150.87 L588.5,1149.81 L590.5,1148.70 L592.5,1147.54 L594.5,1146.33 L596.5,1145.07 L598.5,1143.75 L600.5,1142.38 L602.5,1140.94 L604.5,1139.45 L606.5,1137.90 L608.5,1136.28 L610.5,1134.61 L612.5,1132.86 L614.5,1131.06 L616.5,1129.18 L618.5,1127.24 L620.5,1125.23 L622.5,1123.15 L624.5,1121.00 L626.5,1118.78 L628.5,1116.49 L630.5,1114.13 L632.5,1111.69 L634.5,1109.18 L636.5,1106.59 L638.5,1103.93 L640.5,1101.20 L642.5,1098.38 L644.5,1095.50 L646.5,1092.53 L648.5,1089.49 L650.5,1086.38 L652.5,1083.18 L654.5,1079.91 L656.5,1076.57 L658.5,1073.14 L660.5,1069.65 L662.5,1066.07 L664.5,1062.42 L666.5,1058.70 L668.5,1054.90 L670.5,1051.02 L672.5,1047.08 L674.5,1043.06 L676.5,1038.97 L678.5,1034.80 L680.5,1030.57 L682.5,1026.26 L684.5,1021.89 L686.5,1017.45 L688.5,1012.94 L690.5,1008.37 L692.5,1003.73 L694.5,999.03 L696.5,994.27 L698.5,989.44 L700.5,984.56 L702.5,979.61 L704.5,974.61 L706.5,969.56 L708.5,964.45 L710.5,959.29 L712.5,954.07 L714.5,948.81 L716.5,943.50 L718.5,938.14 L720.5,932.74 L722.5,927.30 L724.5,921.81 L726.5,916.29 L728.5,910.73 L730.5,905.13 L732.5,899.50 L734.5,893.84 L736.5,888.15 L738.5,882.43 L740.5,876.69 L742.5,870.92 L744.5,865.14 L746.5,859.33 L748.5,853.50 L750.5,847.66 L752.5,841.81 L754.5,835.95 L756.5,830.08 L758.5,824.20 L760.5,818.32 L762.5,812.43 L764.5,806.55 L766.5,800.67 L768.5,794.80 L770.5,788.93 L772.5,783.07 L774.5,777.23 L776.5,771.40 L778.5,765.59 L780.5,759.79 L782.5,754.02 L784.5,748.28 L786.5,742.56 L788.5,736.86 L790.5,731.21 L792.5,725.58 L794.5,719.99 L796.5,714.44 L798.5,708.93 L800.5,703.47 L802.5,698.05 L804.5,692.68 L806.5,687.36 L808.5,682.10 L810.5,676.89 L812.5,671.74 L814.5,666.65 L816.5,661.63 L818.5,656.67 L820.5,651.77 L822.5,646.95 L824.5,642.20 L826.5,637.53 L828.5,632.93 L830.5,628.41 L832.5,623.98 L834.5,619.63 L836.5,615.36 L838.5,611.18 L840.5,607.10 L842.5,603.10 L844.5,599.20 L846.5,595.40 L848.5,591.69 L850.5,588.09 L852.5,584.58 L854.5,581.19 L856.5,577.89 L858.5,574.71 L860.5,571.63 L862.5,568.67 L864.5,565.82 L866.5,563.08 L868.5,560.46 L870.5,557.95 L872.5,555.57 L874.5,553.30 L876.5,551.16 L878.5,549.13 L880.5,547.23 L882.5,545.46 L884.5,543.81 L886.5,542.28 L888.5,540.89 L890.5,539.62 L892.5,538.48 L894.5,537.47 L896.5,536.59 L898.5,535.84 L900.5,535.22 L902.5,534.73 L904.5,534.37 L906.5,534.15 L908.5,534.05 L910.5,534.09 L912.5,534.26 L914.5,534.56 L916.5,535.00 L918.5,535.57 L920.5,536.26 L922.5,537.09 L924.5,538.05 L926.5,539.14 L928.5,540.36 L930.5,541.70 L932.5,543.18 L934.5,544.78 L936.5,546.50 L938.5,548.35 L940.5,550.32 L942.5,552.42 L944.5,554.64 L946.5,556.97 L948.5,559.42 L950.5,561.99 L952.5,564.68 L954.5,567.48 L956.5,570.39 L958.5,573.41 L960.5,576.54 L962.5,579.77 L964.5,583.11 L966.5,586.55 L968.5,590.09 L970.5,593.73 L972.5,597.46 L974.5,601.29 L976.5,605.21 L978.5,609.22 L980.5,613.31 L982.5,617.49 L984.5,621.76 L986.5,626.10 L988.5,630.52 L990.5,635.01 L992.5,639.58 L994.5,644.22 L996.5,648.92 L998.5,653.69 L1000.5,658.52 L1002.5,663.41 L1004.5,668.36 L1006.5,673.36 L1008.5,678.41 L1010.5,683.52 L1012.5,688.67 L1014.5,693.86 L1016.5,699.09 L1018.5,704.36 L1020.5,709.67 L1022.5,715.01 L1024.5,720.38 L1026.5,725.78 L1028.5,731.21 L1030.5,736.66 L1032.5,742.13 L1034.5,747.62 L1036.5,753.12 L1038.5,758.64 L1040.5,764.16 L1042.5,769.70 L1044.5,775.24 L1046.5,780.78 L1048.5,786.33 L1050.5,791.87 L1052.5,797.41 L1054.5,802.95 L1056.5,808.48 L1058.5,814.00 L1060.5,819.50 L1062.5,825.00 L1064.5,830.47 L1066.5,835.93 L1068.5,841.37 L1070.5,846.79 L1072.5,852.19 L1074.5,857.56 L1076.5,862.90 L1078.5,868.21 L1080.5,873.50 L1082.5,878.75 L1084.5,883.97 L1086.5,889.16 L1088.5,894.31 L1090.5,899.42 L1092.5,904.49 L1094.5,909.53 L1096.5,914.52 L1098.5,919.47 L1100.5,924.38 L1102.5,929.24 L1104.5,934.06 L1106.5,938.83 L1108.5,943.55 L1110.5,948.22 L1112.5,952.85 L1114.5,957.42 L1116.5,961.95 L1118.5,966.42 L1120.5,970.84 L1122.5,975.21 L1124.5,979.52 L1126.5,983.79 L1128.5,987.99 L1130.5,992.14 L1132.5,996.24 L1134.5,1000.28 L1136.5,1004.27 L1138.5,1008.20 L1140.5,1012.07 L1142.5,1015.89 L1144.5,1019.65 L1146.5,1023.36 L1148.5,1027.00 L1150.5,1030.59 L1152.5,1034.13 L1154.5,1037.60 L1156.5,1041.02 L1158.5,1044.38 L1160.5,1047.69 L1162.5,1050.94 L1164.5,1054.13 L1166.5,1057.27 L1168.5,1060.35 L1170.5,1063.37 L1172.5,1066.34 L1174.5,1069.25 L1176.5,1072.11 L1178.5,1074.91 L1180.5,1077.66 L1182.5,1080.35 L1184.5,1083.00 L1186.5,1085.58 L1188.5,1088.12 L1190.5,1090.60 L1192.5,1093.03 L1194.5,1095.40 L1196.5,1097.73 L1198.5,1100.01 L1200.5,1102.23 L1202.5,1104.41 L1204.5,1106.53 L1206.5,1108.61 L1208.5,1110.64 L1210.5,1112.62 L1212.5,1114.56 L1214.5,1116.45 L1216.5,1118.29 L1218.5,1120.08 L1220.5,1121.84 L1222.5,1123.54 L1224.5,1125.21 L1226.5,1126.83 L1228.5,1128.41 L1230.5,1129.95 L1232.5,1131.44 L1234.5,1132.90 L1236.5,1134.31 L1238.5,1135.69 L1240.5,1137.03 L1242.5,1138.33 L1244.5,1139.59 L1246.5,1140.82 L1248.5,1142.01 L1250.5,1143.16 L1252.5,1144.28 L1254.5,1145.37 L1256.5,1146.42 L1258.5,1147.44 L1260.5,1148.42 L1262.5,1149.38 L1264.5,1150.30 L1266.5,1151.20 L1268.5,1152.06 L1270.5,1152.90 L1272.5,1153.71 L1274.5,1154.48 L1276.5,1155.24 L1278.5,1155.96 L1280.5,1156.66 L1282.5,1157.34 L1284.5,1157.99 L1286.5,1158.61 L1288.5,1159.22 L1290.5,1159.80 L1292.5,1160.35 L1294.5,1160.89 L1296.5,1161.40 L1298.5,1161.90 L1300.5,1162.37 L1302.5,1162.83 L1304.5,1163.26 L1306.5,1163.68 L1308.5,1164.08 L1310.5,1164.47 L1312.5,1164.83 L1314.5,1165.18 L1316.5,1165.52 L1318.5,1165.84 L1320.5,1166.14 L1322.5,1166.44 L1324.5,1166.71 L1326.5,1166.98 L1328.5,1167.23 L1330.5,1167.47 L1332.5,1167.70 L1334.5,1167.92 L1336.5,1168.13 L1338.5,1168.32 L1340.5,1168.51 L1342.5,1168.69 L1344.5,1168.85 L1346.5,1169.01 L1348.5,1169.16 L1350.5,1169.31 L1352.5,1169.44 L1354.5,1169.57 L1356.5,1169.69 L1358.5,1169.81 L1360.5,1169.91 L1362.5,1170.02 L1364.5,1170.11 L1366.5,1170.20 L1368.5,1170.29 L1370.5,1170.37 L1372.5,1170.45 L1374.5,1170.52 L1376.5,1170.59 L1378.5,1170.65 L1380.5,1170.71 L1382.5,1170.77 L1384.5,1170.82 L1386.5,1170.87 L1388.5,1170.92 L1390.5,1170.96 L1392.5,1171.01 L1394.5,1171.05 L1396.5,1171.08 L1398.5,1171.12 L1400.5,1171.15 L1402.5,1171.18 L1404.5,1171.21 L1406.5,1171.24 L1408.5,1171.27 L1410.5,1171.29 L1412.5,1171.32 L1414.5,1171.34 L1416.5,1171.36 L1418.5,1171.38 L1420.5,1171.40 L1422.5,1171.42 L1424.5,1171.43 L1426.5,1171.45 L1428.5,1171.47 L1430.5,1171.48 L1432.5,1171.49 L1434.5,1171.51 L1436.5,1171.52 L1438.5,1171.53 L1440.5,1171.54 L1442.5,1171.56 L1444.5,1171.57 L1446.5,1171.58 L1448.5,1171.59 L1450.5,1171.59 L1452.5,1171.60 L1454.5,1171.61 L1456.5,1171.62 L1458.5,1171.63 L1460.5,1171.63 L1462.5,1171.64 L1464.5,1171.65 L1466.5,1171.66 L1468.5,1171.66 L1470.5,1171.67 L1472.5,1171.67 L1474.5,1171.68 L1476.5,1171.68 L1478.5,1171.69 L1480.5,1171.69 L1482.5,1171.70 L1484.5,1171.70 L1486.5,1171.71 L1488.5,1171.71 L1490.5,1171.72 L1492.5,1171.72 L1494.5,1171.72 L1496.5,1171.73 L1498.5,1171.73 L1500.5,1171.73 L1502.5,1171.74 L1504.5,1171.74 L1506.5,1171.74 L1508.5,1171.74 L1510.5,1171.75 L1512.5,1171.75 L1514.5,1171.75 L1516.5,1171.75 L1518.5,1171.76 L1520.5,1171.76 L1522.5,1171.76 L1524.5,1171.76 L1526.5,1171.76 L1528.5,1171.76 L1530.5,1171.77 L1532.5,1171.77 L1534.5,1171.77 L1536.5,1171.77 L1538.5,1171.77 L1540.5,1171.77 L1542.5,1171.78 L1544.5,1171.78 L1546.5,1171.78 L1548.5,1171.78 L1550.5,1171.78 L1552.5,1171.78 L1554.5,1171.78 L1556.5,1171.78 L1558.5,1171.78 L1560.5,1171.78 L1562.5,1171.78 L1564.5,1171.79 L1566.5,1171.79 L1568.5,1171.79 L1570.5,1171.79 L1572.5,1171.79 L1574.5,1171.79 L1576.5,1171.79 L1578.5,1171.79 L1580.5,1171.79 L1582.5,1171.79 L1584.5,1171.79 L1586.5,1171.79 L1588.5,1171.79 L1590.5,1171.79 L1592.5,1171.79 L1594.5,1171.79 L1596.5,1171.79 L1598.5,1171.79 L1600.5,1171.79 L1602.5,1171.79 L1604.5,1171.79 L1606.5,1171.80 L1608.5,1171.80 L1610.5,1171.80 L1612.5,1171.80 L1614.5,1171.80 L1616.5,1171.80 L1618.5,1171.80 L1620.5,1171.80 L1622.5,1171.80 L1624.5,1171.80 L1626.5,1171.80 L1628.5,1171.80 L1630.5,1171.80 L1632.5,1171.80 L1634.5,1171.80 L1636.5,1171.80 L1638.5,1171.80 L1640.5,1171.80 L1642.5,1171.80 L1644.5,1171.80 L1646.5,1171.80 L1648.5,1171.80 L1650.5,1171.80 L1652.5,1171.80 L1654.5,1171.80 L1656.5,1171.80 L1658.5,1171.80 L1660.5,1171.80 L1662.5,1171.80 L1664.5,1171.80 L1666.5,1171.80 L1668.5,1171.80 L1670.5,1171.80 L1672.5,1171.80 L1674.5,1171.80 L1676.5,1171.80 L1678.5,1171.80 L1680.5,1171.80 L1682.5,1171.80 L1684.5,1171.80 L1686.5,1171.80 L1688.5,1171.80 L1690.5,1171.80 L1692.5,1171.80 L1694.5,1171.80 L1696.5,1171.80 L1698.5,1171.80 L1700.5,1171.80 L1702.5,1171.80 L1704.5,1171.80 L1706.5,1171.80 L1708.5,1171.80 L1710.5,1171.80 L1712.5,1171.80 L1714.5,1171.80 L1716.5,1171.80" fill="none" stroke="#0a5fde" stroke-width="2.6" stroke-linejoin="round"/>
<path d="M136.5,1170.46 L138.5,1170.46 L140.5,1170.46 L142.5,1170.46 L144.5,1170.45 L146.5,1170.45 L148.5,1170.45 L150.5,1170.45 L152.5,1170.45 L154.5,1170.45 L156.5,1170.45 L158.5,1170.44 L160.5,1170.44 L162.5,1170.44 L164.5,1170.44 L166.5,1170.44 L168.5,1170.43 L170.5,1170.43 L172.5,1170.43 L174.5,1170.43 L176.5,1170.42 L178.5,1170.42 L180.5,1170.42 L182.5,1170.42 L184.5,1170.41 L186.5,1170.41 L188.5,1170.41 L190.5,1170.41 L192.5,1170.40 L194.5,1170.40 L196.5,1170.40 L198.5,1170.39 L200.5,1170.39 L202.5,1170.39 L204.5,1170.38 L206.5,1170.38 L208.5,1170.38 L210.5,1170.37 L212.5,1170.37 L214.5,1170.36 L216.5,1170.36 L218.5,1170.36 L220.5,1170.35 L222.5,1170.35 L224.5,1170.34 L226.5,1170.34 L228.5,1170.33 L230.5,1170.33 L232.5,1170.32 L234.5,1170.32 L236.5,1170.31 L238.5,1170.31 L240.5,1170.30 L242.5,1170.29 L244.5,1170.29 L246.5,1170.28 L248.5,1170.28 L250.5,1170.27 L252.5,1170.26 L254.5,1170.26 L256.5,1170.25 L258.5,1170.24 L260.5,1170.23 L262.5,1170.23 L264.5,1170.22 L266.5,1170.21 L268.5,1170.20 L270.5,1170.19 L272.5,1170.19 L274.5,1170.18 L276.5,1170.17 L278.5,1170.16 L280.5,1170.15 L282.5,1170.14 L284.5,1170.13 L286.5,1170.12 L288.5,1170.11 L290.5,1170.10 L292.5,1170.09 L294.5,1170.08 L296.5,1170.07 L298.5,1170.05 L300.5,1170.04 L302.5,1170.03 L304.5,1170.02 L306.5,1170.00 L308.5,1169.99 L310.5,1169.98 L312.5,1169.96 L314.5,1169.95 L316.5,1169.94 L318.5,1169.92 L320.5,1169.91 L322.5,1169.89 L324.5,1169.87 L326.5,1169.86 L328.5,1169.84 L330.5,1169.83 L332.5,1169.81 L334.5,1169.79 L336.5,1169.77 L338.5,1169.75 L340.5,1169.74 L342.5,1169.72 L344.5,1169.70 L346.5,1169.68 L348.5,1169.66 L350.5,1169.64 L352.5,1169.61 L354.5,1169.59 L356.5,1169.57 L358.5,1169.55 L360.5,1169.53 L362.5,1169.50 L364.5,1169.48 L366.5,1169.45 L368.5,1169.43 L370.5,1169.40 L372.5,1169.38 L374.5,1169.35 L376.5,1169.32 L378.5,1169.30 L380.5,1169.27 L382.5,1169.24 L384.5,1169.21 L386.5,1169.18 L388.5,1169.15 L390.5,1169.12 L392.5,1169.09 L394.5,1169.05 L396.5,1169.02 L398.5,1168.99 L400.5,1168.95 L402.5,1168.92 L404.5,1168.88 L406.5,1168.85 L408.5,1168.81 L410.5,1168.77 L412.5,1168.74 L414.5,1168.70 L416.5,1168.66 L418.5,1168.62 L420.5,1168.58 L422.5,1168.54 L424.5,1168.49 L426.5,1168.45 L428.5,1168.41 L430.5,1168.36 L432.5,1168.32 L434.5,1168.27 L436.5,1168.22 L438.5,1168.17 L440.5,1168.12 L442.5,1168.07 L444.5,1168.02 L446.5,1167.97 L448.5,1167.92 L450.5,1167.86 L452.5,1167.81 L454.5,1167.75 L456.5,1167.69 L458.5,1167.63 L460.5,1167.57 L462.5,1167.51 L464.5,1167.45 L466.5,1167.38 L468.5,1167.31 L470.5,1167.24 L472.5,1167.17 L474.5,1167.10 L476.5,1167.02 L478.5,1166.94 L480.5,1166.86 L482.5,1166.78 L484.5,1166.69 L486.5,1166.60 L488.5,1166.50 L490.5,1166.40 L492.5,1166.30 L494.5,1166.19 L496.5,1166.08 L498.5,1165.96 L500.5,1165.84 L502.5,1165.71 L504.5,1165.57 L506.5,1165.43 L508.5,1165.28 L510.5,1165.12 L512.5,1164.95 L514.5,1164.77 L516.5,1164.58 L518.5,1164.38 L520.5,1164.18 L522.5,1163.95 L524.5,1163.72 L526.5,1163.47 L528.5,1163.21 L530.5,1162.93 L532.5,1162.64 L534.5,1162.33 L536.5,1162.00 L538.5,1161.65 L540.5,1161.29 L542.5,1160.90 L544.5,1160.49 L546.5,1160.06 L548.5,1159.60 L550.5,1159.12 L552.5,1158.61 L554.5,1158.07 L556.5,1157.51 L558.5,1156.91 L560.5,1156.28 L562.5,1155.63 L564.5,1154.93 L566.5,1154.20 L568.5,1153.44 L570.5,1152.63 L572.5,1151.79 L574.5,1150.91 L576.5,1149.99 L578.5,1149.02 L580.5,1148.01 L582.5,1146.95 L584.5,1145.84 L586.5,1144.69 L588.5,1143.48 L590.5,1142.23 L592.5,1140.92 L594.5,1139.56 L596.5,1138.14 L598.5,1136.67 L600.5,1135.14 L602.5,1133.55 L604.5,1131.90 L606.5,1130.19 L608.5,1128.42 L610.5,1126.58 L612.5,1124.68 L614.5,1122.72 L616.5,1120.68 L618.5,1118.58 L620.5,1116.41 L622.5,1114.17 L624.5,1111.86 L626.5,1109.48 L628.5,1107.03 L630.5,1104.51 L632.5,1101.91 L634.5,1099.23 L636.5,1096.49 L638.5,1093.66 L640.5,1090.76 L642.5,1087.79 L644.5,1084.73 L646.5,1081.60 L648.5,1078.40 L650.5,1075.11 L652.5,1071.75 L654.5,1068.31 L656.5,1064.78 L658.5,1061.19 L660.5,1057.51 L662.5,1053.75 L664.5,1049.92 L666.5,1046.00 L668.5,1042.01 L670.5,1037.94 L672.5,1033.79 L674.5,1029.57 L676.5,1025.27 L678.5,1020.89 L680.5,1016.43 L682.5,1011.90 L684.5,1007.30 L686.5,1002.62 L688.5,997.87 L690.5,993.04 L692.5,988.14 L694.5,983.17 L696.5,978.13 L698.5,973.02 L700.5,967.84 L702.5,962.60 L704.5,957.29 L706.5,951.91 L708.5,946.47 L710.5,940.96 L712.5,935.40 L714.5,929.77 L716.5,924.08 L718.5,918.34 L720.5,912.54 L722.5,906.69 L724.5,900.78 L726.5,894.83 L728.5,888.82 L730.5,882.76 L732.5,876.66 L734.5,870.51 L736.5,864.32 L738.5,858.09 L740.5,851.82 L742.5,845.51 L744.5,839.17 L746.5,832.80 L748.5,826.39 L750.5,819.95 L752.5,813.49 L754.5,807.00 L756.5,800.49 L758.5,793.95 L760.5,787.40 L762.5,780.83 L764.5,774.25 L766.5,767.66 L768.5,761.05 L770.5,754.44 L772.5,747.83 L774.5,741.21 L776.5,734.59 L778.5,727.97 L780.5,721.36 L782.5,714.76 L784.5,708.17 L786.5,701.58 L788.5,695.02 L790.5,688.47 L792.5,681.94 L794.5,675.43 L796.5,668.95 L798.5,662.50 L800.5,656.07 L802.5,649.68 L804.5,643.33 L806.5,637.01 L808.5,630.73 L810.5,624.50 L812.5,618.31 L814.5,612.17 L816.5,606.08 L818.5,600.05 L820.5,594.07 L822.5,588.15 L824.5,582.29 L826.5,576.50 L828.5,570.77 L830.5,565.11 L832.5,559.52 L834.5,554.01 L836.5,548.57 L838.5,543.21 L840.5,537.93 L842.5,532.74 L844.5,527.63 L846.5,522.61 L848.5,517.69 L850.5,512.85 L852.5,508.11 L854.5,503.47 L856.5,498.92 L858.5,494.48 L860.5,490.14 L862.5,485.91 L864.5,481.78 L866.5,477.77 L868.5,473.86 L870.5,470.07 L872.5,466.39 L874.5,462.84 L876.5,459.39 L878.5,456.07 L880.5,452.88 L882.5,449.80 L884.5,446.85 L886.5,444.03 L888.5,441.33 L890.5,438.76 L892.5,436.33 L894.5,434.02 L896.5,431.84 L898.5,429.80 L900.5,427.90 L902.5,426.13 L904.5,424.49 L906.5,422.99 L908.5,421.63 L910.5,420.41 L912.5,419.32 L914.5,418.38 L916.5,417.57 L918.5,416.90 L920.5,416.38 L922.5,415.99 L924.5,415.74 L926.5,415.64 L928.5,415.67 L930.5,415.85 L932.5,416.16 L934.5,416.61 L936.5,417.21 L938.5,417.94 L940.5,418.81 L942.5,419.82 L944.5,420.97 L946.5,422.25 L948.5,423.67 L950.5,425.22 L952.5,426.91 L954.5,428.73 L956.5,430.68 L958.5,432.77 L960.5,434.98 L962.5,437.33 L964.5,439.80 L966.5,442.39 L968.5,445.12 L970.5,447.96 L972.5,450.93 L974.5,454.02 L976.5,457.22 L978.5,460.55 L980.5,463.98 L982.5,467.53 L984.5,471.20 L986.5,474.97 L988.5,478.85 L990.5,482.84 L992.5,486.93 L994.5,491.12 L996.5,495.42 L998.5,499.81 L1000.5,504.29 L1002.5,508.87 L1004.5,513.54 L1006.5,518.30 L1008.5,523.15 L1010.5,528.08 L1012.5,533.09 L1014.5,538.19 L1016.5,543.36 L1018.5,548.60 L1020.5,553.92 L1022.5,559.31 L1024.5,564.77 L1026.5,570.29 L1028.5,575.87 L1030.5,581.52 L1032.5,587.22 L1034.5,592.98 L1036.5,598.79 L1038.5,604.66 L1040.5,610.57 L1042.5,616.52 L1044.5,622.52 L1046.5,628.56 L1048.5,634.64 L1050.5,640.76 L1052.5,646.91 L1054.5,653.09 L1056.5,659.29 L1058.5,665.53 L1060.5,671.79 L1062.5,678.07 L1064.5,684.36 L1066.5,690.68 L1068.5,697.01 L1070.5,703.35 L1072.5,709.70 L1074.5,716.06 L1076.5,722.43 L1078.5,728.79 L1080.5,735.16 L1082.5,741.53 L1084.5,747.89 L1086.5,754.25 L1088.5,760.60 L1090.5,766.94 L1092.5,773.26 L1094.5,779.58 L1096.5,785.88 L1098.5,792.16 L1100.5,798.42 L1102.5,804.66 L1104.5,810.87 L1106.5,817.06 L1108.5,823.23 L1110.5,829.36 L1112.5,835.47 L1114.5,841.54 L1116.5,847.58 L1118.5,853.58 L1120.5,859.55 L1122.5,865.47 L1124.5,871.36 L1126.5,877.21 L1128.5,883.01 L1130.5,888.77 L1132.5,894.48 L1134.5,900.14 L1136.5,905.76 L1138.5,911.33 L1140.5,916.85 L1142.5,922.31 L1144.5,927.72 L1146.5,933.08 L1148.5,938.38 L1150.5,943.63 L1152.5,948.82 L1154.5,953.95 L1156.5,959.02 L1158.5,964.03 L1160.5,968.98 L1162.5,973.87 L1164.5,978.69 L1166.5,983.45 L1168.5,988.15 L1170.5,992.79 L1172.5,997.36 L1174.5,1001.86 L1176.5,1006.30 L1178.5,1010.67 L1180.5,1014.97 L1182.5,1019.21 L1184.5,1023.37 L1186.5,1027.47 L1188.5,1031.50 L1190.5,1035.47 L1192.5,1039.36 L1194.5,1043.18 L1196.5,1046.94 L1198.5,1050.62 L1200.5,1054.24 L1202.5,1057.78 L1204.5,1061.26 L1206.5,1064.66 L1208.5,1068.00 L1210.5,1071.27 L1212.5,1074.46 L1214.5,1077.59 L1216.5,1080.65 L1218.5,1083.64 L1220.5,1086.56 L1222.5,1089.42 L1224.5,1092.20 L1226.5,1094.92 L1228.5,1097.57 L1230.5,1100.16 L1232.5,1102.68 L1234.5,1105.13 L1236.5,1107.52 L1238.5,1109.84 L1240.5,1112.10 L1242.5,1114.30 L1244.5,1116.44 L1246.5,1118.51 L1248.5,1120.52 L1250.5,1122.47 L1252.5,1124.37 L1254.5,1126.20 L1256.5,1127.98 L1258.5,1129.69 L1260.5,1131.36 L1262.5,1132.97 L1264.5,1134.52 L1266.5,1136.02 L1268.5,1137.47 L1270.5,1138.87 L1272.5,1140.21 L1274.5,1141.51 L1276.5,1142.76 L1278.5,1143.96 L1280.5,1145.12 L1282.5,1146.23 L1284.5,1147.30 L1286.5,1148.32 L1288.5,1149.31 L1290.5,1150.25 L1292.5,1151.15 L1294.5,1152.02 L1296.5,1152.85 L1298.5,1153.64 L1300.5,1154.39 L1302.5,1155.12 L1304.5,1155.80 L1306.5,1156.46 L1308.5,1157.09 L1310.5,1157.69 L1312.5,1158.26 L1314.5,1158.80 L1316.5,1159.31 L1318.5,1159.80 L1320.5,1160.27 L1322.5,1160.71 L1324.5,1161.13 L1326.5,1161.52 L1328.5,1161.90 L1330.5,1162.26 L1332.5,1162.60 L1334.5,1162.92 L1336.5,1163.22 L1338.5,1163.51 L1340.5,1163.78 L1342.5,1164.04 L1344.5,1164.28 L1346.5,1164.51 L1348.5,1164.73 L1350.5,1164.94 L1352.5,1165.13 L1354.5,1165.32 L1356.5,1165.49 L1358.5,1165.66 L1360.5,1165.82 L1362.5,1165.96 L1364.5,1166.11 L1366.5,1166.24 L1368.5,1166.37 L1370.5,1166.49 L1372.5,1166.60 L1374.5,1166.71 L1376.5,1166.82 L1378.5,1166.92 L1380.5,1167.01 L1382.5,1167.10 L1384.5,1167.19 L1386.5,1167.27 L1388.5,1167.35 L1390.5,1167.43 L1392.5,1167.51 L1394.5,1167.58 L1396.5,1167.65 L1398.5,1167.71 L1400.5,1167.78 L1402.5,1167.84 L1404.5,1167.90 L1406.5,1167.96 L1408.5,1168.01 L1410.5,1168.07 L1412.5,1168.12 L1414.5,1168.17 L1416.5,1168.23 L1418.5,1168.27 L1420.5,1168.32 L1422.5,1168.37 L1424.5,1168.42 L1426.5,1168.46 L1428.5,1168.51 L1430.5,1168.55 L1432.5,1168.59 L1434.5,1168.63 L1436.5,1168.67 L1438.5,1168.71 L1440.5,1168.75 L1442.5,1168.79 L1444.5,1168.83 L1446.5,1168.86 L1448.5,1168.90 L1450.5,1168.94 L1452.5,1168.97 L1454.5,1169.00 L1456.5,1169.04 L1458.5,1169.07 L1460.5,1169.10 L1462.5,1169.13 L1464.5,1169.16 L1466.5,1169.20 L1468.5,1169.22 L1470.5,1169.25 L1472.5,1169.28 L1474.5,1169.31 L1476.5,1169.34 L1478.5,1169.36 L1480.5,1169.39 L1482.5,1169.42 L1484.5,1169.44 L1486.5,1169.47 L1488.5,1169.49 L1490.5,1169.52 L1492.5,1169.54 L1494.5,1169.56 L1496.5,1169.58 L1498.5,1169.61 L1500.5,1169.63 L1502.5,1169.65 L1504.5,1169.67 L1506.5,1169.69 L1508.5,1169.71 L1510.5,1169.73 L1512.5,1169.75 L1514.5,1169.77 L1516.5,1169.78 L1518.5,1169.80 L1520.5,1169.82 L1522.5,1169.84 L1524.5,1169.85 L1526.5,1169.87 L1528.5,1169.88 L1530.5,1169.90 L1532.5,1169.92 L1534.5,1169.93 L1536.5,1169.94 L1538.5,1169.96 L1540.5,1169.97 L1542.5,1169.99 L1544.5,1170.00 L1546.5,1170.01 L1548.5,1170.03 L1550.5,1170.04 L1552.5,1170.05 L1554.5,1170.06 L1556.5,1170.07 L1558.5,1170.08 L1560.5,1170.10 L1562.5,1170.11 L1564.5,1170.12 L1566.5,1170.13 L1568.5,1170.14 L1570.5,1170.15 L1572.5,1170.16 L1574.5,1170.17 L1576.5,1170.17 L1578.5,1170.18 L1580.5,1170.19 L1582.5,1170.20 L1584.5,1170.21 L1586.5,1170.22 L1588.5,1170.22 L1590.5,1170.23 L1592.5,1170.24 L1594.5,1170.25 L1596.5,1170.25 L1598.5,1170.26 L1600.5,1170.27 L1602.5,1170.27 L1604.5,1170.28 L1606.5,1170.29 L1608.5,1170.29 L1610.5,1170.30 L1612.5,1170.30 L1614.5,1170.31 L1616.5,1170.32 L1618.5,1170.32 L1620.5,1170.33 L1622.5,1170.33 L1624.5,1170.34 L1626.5,1170.34 L1628.5,1170.35 L1630.5,1170.35 L1632.5,1170.35 L1634.5,1170.36 L1636.5,1170.36 L1638.5,1170.37 L1640.5,1170.37 L1642.5,1170.38 L1644.5,1170.38 L1646.5,1170.38 L1648.5,1170.39 L1650.5,1170.39 L1652.5,1170.39 L1654.5,1170.40 L1656.5,1170.40 L1658.5,1170.40 L1660.5,1170.41 L1662.5,1170.41 L1664.5,1170.41 L1666.5,1170.41 L1668.5,1170.42 L1670.5,1170.42 L1672.5,1170.42 L1674.5,1170.42 L1676.5,1170.43 L1678.5,1170.43 L1680.5,1170.43 L1682.5,1170.43 L1684.5,1170.44 L1686.5,1170.44 L1688.5,1170.44 L1690.5,1170.44 L1692.5,1170.44 L1694.5,1170.44 L1696.5,1170.45 L1698.5,1170.45 L1700.5,1170.45 L1702.5,1170.45 L1704.5,1170.45 L1706.5,1170.45 L1708.5,1170.46 L1710.5,1170.46 L1712.5,1170.46 L1714.5,1170.46 L1716.5,1170.46" fill="none" stroke="#f2302f" stroke-width="2.6" stroke-linejoin="round"/>
<path d="M136.5,1171.49 L138.5,1171.49 L140.5,1171.49 L142.5,1171.49 L144.5,1171.49 L146.5,1171.49 L148.5,1171.49 L150.5,1171.49 L152.5,1171.49 L154.5,1171.49 L156.5,1171.49 L158.5,1171.49 L160.5,1171.49 L162.5,1171.49 L164.5,1171.49 L166.5,1171.49 L168.5,1171.49 L170.5,1171.49 L172.5,1171.49 L174.5,1171.49 L176.5,1171.49 L178.5,1171.49 L180.5,1171.49 L182.5,1171.48 L184.5,1171.48 L186.5,1171.48 L188.5,1171.48 L190.5,1171.48 L192.5,1171.48 L194.5,1171.48 L196.5,1171.48 L198.5,1171.48 L200.5,1171.48 L202.5,1171.48 L204.5,1171.47 L206.5,1171.47 L208.5,1171.47 L210.5,1171.47 L212.5,1171.47 L214.5,1171.47 L216.5,1171.47 L218.5,1171.47 L220.5,1171.46 L222.5,1171.46 L224.5,1171.46 L226.5,1171.46 L228.5,1171.46 L230.5,1171.46 L232.5,1171.45 L234.5,1171.45 L236.5,1171.45 L238.5,1171.45 L240.5,1171.45 L242.5,1171.44 L244.5,1171.44 L246.5,1171.44 L248.5,1171.44 L250.5,1171.43 L252.5,1171.43 L254.5,1171.43 L256.5,1171.42 L258.5,1171.42 L260.5,1171.42 L262.5,1171.42 L264.5,1171.41 L266.5,1171.41 L268.5,1171.40 L270.5,1171.40 L272.5,1171.40 L274.5,1171.39 L276.5,1171.39 L278.5,1171.38 L280.5,1171.38 L282.5,1171.37 L284.5,1171.37 L286.5,1171.36 L288.5,1171.36 L290.5,1171.35 L292.5,1171.35 L294.5,1171.34 L296.5,1171.34 L298.5,1171.33 L300.5,1171.32 L302.5,1171.32 L304.5,1171.31 L306.5,1171.30 L308.5,1171.29 L310.5,1171.29 L312.5,1171.28 L314.5,1171.27 L316.5,1171.26 L318.5,1171.25 L320.5,1171.24 L322.5,1171.23 L324.5,1171.22 L326.5,1171.21 L328.5,1171.20 L330.5,1171.19 L332.5,1171.18 L334.5,1171.17 L336.5,1171.16 L338.5,1171.15 L340.5,1171.13 L342.5,1171.12 L344.5,1171.11 L346.5,1171.09 L348.5,1171.08 L350.5,1171.06 L352.5,1171.05 L354.5,1171.03 L356.5,1171.02 L358.5,1171.00 L360.5,1170.98 L362.5,1170.96 L364.5,1170.95 L366.5,1170.93 L368.5,1170.91 L370.5,1170.89 L372.5,1170.87 L374.5,1170.85 L376.5,1170.82 L378.5,1170.80 L380.5,1170.78 L382.5,1170.75 L384.5,1170.73 L386.5,1170.70 L388.5,1170.68 L390.5,1170.65 L392.5,1170.62 L394.5,1170.60 L396.5,1170.57 L398.5,1170.54 L400.5,1170.50 L402.5,1170.47 L404.5,1170.44 L406.5,1170.41 L408.5,1170.37 L410.5,1170.34 L412.5,1170.30 L414.5,1170.26 L416.5,1170.22 L418.5,1170.19 L420.5,1170.14 L422.5,1170.10 L424.5,1170.06 L426.5,1170.02 L428.5,1169.97 L430.5,1169.93 L432.5,1169.88 L434.5,1169.83 L436.5,1169.78 L438.5,1169.73 L440.5,1169.68 L442.5,1169.62 L444.5,1169.57 L446.5,1169.51 L448.5,1169.45 L450.5,1169.39 L452.5,1169.33 L454.5,1169.27 L456.5,1169.20 L458.5,1169.13 L460.5,1169.07 L462.5,1169.00 L464.5,1168.92 L466.5,1168.85 L468.5,1168.77 L470.5,1168.70 L472.5,1168.61 L474.5,1168.53 L476.5,1168.45 L478.5,1168.36 L480.5,1168.27 L482.5,1168.17 L484.5,1168.08 L486.5,1167.97 L488.5,1167.87 L490.5,1167.76 L492.5,1167.65 L494.5,1167.54 L496.5,1167.42 L498.5,1167.29 L500.5,1167.16 L502.5,1167.03 L504.5,1166.88 L506.5,1166.74 L508.5,1166.58 L510.5,1166.42 L512.5,1166.25 L514.5,1166.08 L516.5,1165.89 L518.5,1165.70 L520.5,1165.49 L522.5,1165.28 L524.5,1165.06 L526.5,1164.82 L528.5,1164.57 L530.5,1164.31 L532.5,1164.03 L534.5,1163.74 L536.5,1163.43 L538.5,1163.11 L540.5,1162.76 L542.5,1162.40 L544.5,1162.02 L546.5,1161.62 L548.5,1161.19 L550.5,1160.74 L552.5,1160.27 L554.5,1159.77 L556.5,1159.25 L558.5,1158.69 L560.5,1158.11 L562.5,1157.50 L564.5,1156.85 L566.5,1156.17 L568.5,1155.45 L570.5,1154.70 L572.5,1153.90 L574.5,1153.07 L576.5,1152.20 L578.5,1151.28 L580.5,1150.32 L582.5,1149.31 L584.5,1148.25 L586.5,1147.15 L588.5,1145.99 L590.5,1144.79 L592.5,1143.52 L594.5,1142.21 L596.5,1140.83 L598.5,1139.40 L600.5,1137.91 L602.5,1136.35 L604.5,1134.73 L606.5,1133.05 L608.5,1131.31 L610.5,1129.49 L612.5,1127.61 L614.5,1125.66 L616.5,1123.63 L618.5,1121.54 L620.5,1119.37 L622.5,1117.12 L624.5,1114.81 L626.5,1112.41 L628.5,1109.94 L630.5,1107.39 L632.5,1104.76 L634.5,1102.05 L636.5,1099.26 L638.5,1096.39 L640.5,1093.44 L642.5,1090.41 L644.5,1087.29 L646.5,1084.09 L648.5,1080.81 L650.5,1077.44 L652.5,1073.99 L654.5,1070.46 L656.5,1066.84 L658.5,1063.14 L660.5,1059.36 L662.5,1055.49 L664.5,1051.54 L666.5,1047.51 L668.5,1043.39 L670.5,1039.19 L672.5,1034.91 L674.5,1030.55 L676.5,1026.11 L678.5,1021.59 L680.5,1016.99 L682.5,1012.31 L684.5,1007.55 L686.5,1002.72 L688.5,997.82 L690.5,992.84 L692.5,987.78 L694.5,982.66 L696.5,977.46 L698.5,972.20 L700.5,966.86 L702.5,961.47 L704.5,956.00 L706.5,950.47 L708.5,944.89 L710.5,939.24 L712.5,933.53 L714.5,927.76 L716.5,921.94 L718.5,916.07 L720.5,910.15 L722.5,904.17 L724.5,898.15 L726.5,892.08 L728.5,885.97 L730.5,879.82 L732.5,873.62 L734.5,867.39 L736.5,861.12 L738.5,854.82 L740.5,848.49 L742.5,842.13 L744.5,835.74 L746.5,829.33 L748.5,822.89 L750.5,816.44 L752.5,809.96 L754.5,803.48 L756.5,796.97 L758.5,790.46 L760.5,783.94 L762.5,777.41 L764.5,770.88 L766.5,764.34 L768.5,757.81 L770.5,751.28 L772.5,744.76 L774.5,738.25 L776.5,731.74 L778.5,725.25 L780.5,718.78 L782.5,712.32 L784.5,705.88 L786.5,699.47 L788.5,693.08 L790.5,686.73 L792.5,680.40 L794.5,674.10 L796.5,667.84 L798.5,661.62 L800.5,655.44 L802.5,649.30 L804.5,643.21 L806.5,637.16 L808.5,631.17 L810.5,625.22 L812.5,619.34 L814.5,613.51 L816.5,607.74 L818.5,602.03 L820.5,596.39 L822.5,590.81 L824.5,585.30 L826.5,579.87 L828.5,574.51 L830.5,569.22 L832.5,564.01 L834.5,558.89 L836.5,553.84 L838.5,548.88 L840.5,544.01 L842.5,539.23 L844.5,534.54 L846.5,529.94 L848.5,525.44 L850.5,521.03 L852.5,516.72 L854.5,512.52 L856.5,508.41 L858.5,504.41 L860.5,500.52 L862.5,496.74 L864.5,493.06 L866.5,489.50 L868.5,486.05 L870.5,482.72 L872.5,479.50 L874.5,476.40 L876.5,473.42 L878.5,470.56 L880.5,467.82 L882.5,465.20 L884.5,462.71 L886.5,460.34 L888.5,458.10 L890.5,455.99 L892.5,454.01 L894.5,452.15 L896.5,450.43 L898.5,448.83 L900.5,447.37 L902.5,446.04 L904.5,444.85 L906.5,443.79 L908.5,442.86 L910.5,442.07 L912.5,441.41 L914.5,440.88 L916.5,440.50 L918.5,440.24 L920.5,440.13 L922.5,440.15 L924.5,440.32 L926.5,440.64 L928.5,441.11 L930.5,441.73 L932.5,442.50 L934.5,443.41 L936.5,444.48 L938.5,445.69 L940.5,447.04 L942.5,448.55 L944.5,450.19 L946.5,451.98 L948.5,453.91 L950.5,455.99 L952.5,458.20 L954.5,460.55 L956.5,463.04 L958.5,465.66 L960.5,468.42 L962.5,471.31 L964.5,474.33 L966.5,477.48 L968.5,480.76 L970.5,484.16 L972.5,487.68 L974.5,491.33 L976.5,495.09 L978.5,498.97 L980.5,502.97 L982.5,507.07 L984.5,511.29 L986.5,515.62 L988.5,520.04 L990.5,524.58 L992.5,529.21 L994.5,533.93 L996.5,538.76 L998.5,543.67 L1000.5,548.68 L1002.5,553.77 L1004.5,558.94 L1006.5,564.19 L1008.5,569.53 L1010.5,574.93 L1012.5,580.41 L1014.5,585.96 L1016.5,591.58 L1018.5,597.26 L1020.5,603.00 L1022.5,608.80 L1024.5,614.65 L1026.5,620.55 L1028.5,626.51 L1030.5,632.51 L1032.5,638.55 L1034.5,644.63 L1036.5,650.75 L1038.5,656.91 L1040.5,663.09 L1042.5,669.31 L1044.5,675.55 L1046.5,681.81 L1048.5,688.09 L1050.5,694.39 L1052.5,700.71 L1054.5,707.04 L1056.5,713.37 L1058.5,719.72 L1060.5,726.06 L1062.5,732.41 L1064.5,738.76 L1066.5,745.10 L1068.5,751.44 L1070.5,757.77 L1072.5,764.09 L1074.5,770.39 L1076.5,776.68 L1078.5,782.95 L1080.5,789.21 L1082.5,795.44 L1084.5,801.64 L1086.5,807.82 L1088.5,813.97 L1090.5,820.09 L1092.5,826.18 L1094.5,832.23 L1096.5,838.25 L1098.5,844.23 L1100.5,850.17 L1102.5,856.07 L1104.5,861.93 L1106.5,867.75 L1108.5,873.51 L1110.5,879.24 L1112.5,884.91 L1114.5,890.53 L1116.5,896.11 L1118.5,901.63 L1120.5,907.10 L1122.5,912.51 L1124.5,917.87 L1126.5,923.17 L1128.5,928.42 L1130.5,933.60 L1132.5,938.73 L1134.5,943.80 L1136.5,948.81 L1138.5,953.76 L1140.5,958.64 L1142.5,963.46 L1144.5,968.22 L1146.5,972.92 L1148.5,977.55 L1150.5,982.12 L1152.5,986.62 L1154.5,991.06 L1156.5,995.44 L1158.5,999.75 L1160.5,1003.99 L1162.5,1008.17 L1164.5,1012.28 L1166.5,1016.32 L1168.5,1020.30 L1170.5,1024.22 L1172.5,1028.06 L1174.5,1031.85 L1176.5,1035.56 L1178.5,1039.21 L1180.5,1042.80 L1182.5,1046.32 L1184.5,1049.77 L1186.5,1053.16 L1188.5,1056.49 L1190.5,1059.75 L1192.5,1062.95 L1194.5,1066.09 L1196.5,1069.16 L1198.5,1072.17 L1200.5,1075.12 L1202.5,1078.00 L1204.5,1080.83 L1206.5,1083.59 L1208.5,1086.30 L1210.5,1088.95 L1212.5,1091.53 L1214.5,1094.06 L1216.5,1096.53 L1218.5,1098.94 L1220.5,1101.30 L1222.5,1103.60 L1224.5,1105.85 L1226.5,1108.04 L1228.5,1110.18 L1230.5,1112.26 L1232.5,1114.29 L1234.5,1116.27 L1236.5,1118.20 L1238.5,1120.08 L1240.5,1121.91 L1242.5,1123.69 L1244.5,1125.42 L1246.5,1127.11 L1248.5,1128.75 L1250.5,1130.34 L1252.5,1131.89 L1254.5,1133.39 L1256.5,1134.85 L1258.5,1136.27 L1260.5,1137.65 L1262.5,1138.98 L1264.5,1140.27 L1266.5,1141.53 L1268.5,1142.74 L1270.5,1143.92 L1272.5,1145.06 L1274.5,1146.16 L1276.5,1147.23 L1278.5,1148.26 L1280.5,1149.26 L1282.5,1150.22 L1284.5,1151.15 L1286.5,1152.05 L1288.5,1152.92 L1290.5,1153.76 L1292.5,1154.57 L1294.5,1155.35 L1296.5,1156.10 L1298.5,1156.82 L1300.5,1157.51 L1302.5,1158.18 L1304.5,1158.83 L1306.5,1159.44 L1308.5,1160.04 L1310.5,1160.61 L1312.5,1161.16 L1314.5,1161.68 L1316.5,1162.19 L1318.5,1162.67 L1320.5,1163.13 L1322.5,1163.58 L1324.5,1164.00 L1326.5,1164.41 L1328.5,1164.79 L1330.5,1165.17 L1332.5,1165.52 L1334.5,1165.86 L1336.5,1166.18 L1338.5,1166.48 L1340.5,1166.78 L1342.5,1167.06 L1344.5,1167.32 L1346.5,1167.57 L1348.5,1167.81 L1350.5,1168.04 L1352.5,1168.25 L1354.5,1168.46 L1356.5,1168.65 L1358.5,1168.83 L1360.5,1169.01 L1362.5,1169.17 L1364.5,1169.32 L1366.5,1169.47 L1368.5,1169.61 L1370.5,1169.74 L1372.5,1169.86 L1374.5,1169.98 L1376.5,1170.08 L1378.5,1170.19 L1380.5,1170.28 L1382.5,1170.37 L1384.5,1170.45 L1386.5,1170.53 L1388.5,1170.61 L1390.5,1170.68 L1392.5,1170.74 L1394.5,1170.80 L1396.5,1170.86 L1398.5,1170.91 L1400.5,1170.96 L1402.5,1171.00 L1404.5,1171.04 L1406.5,1171.08 L1408.5,1171.12 L1410.5,1171.15 L1412.5,1171.18 L1414.5,1171.21 L1416.5,1171.23 L1418.5,1171.26 L1420.5,1171.28 L1422.5,1171.30 L1424.5,1171.32 L1426.5,1171.34 L1428.5,1171.35 L1430.5,1171.37 L1432.5,1171.38 L1434.5,1171.39 L1436.5,1171.40 L1438.5,1171.41 L1440.5,1171.42 L1442.5,1171.43 L1444.5,1171.44 L1446.5,1171.44 L1448.5,1171.45 L1450.5,1171.46 L1452.5,1171.46 L1454.5,1171.46 L1456.5,1171.47 L1458.5,1171.47 L1460.5,1171.48 L1462.5,1171.48 L1464.5,1171.48 L1466.5,1171.48 L1468.5,1171.49 L1470.5,1171.49 L1472.5,1171.49 L1474.5,1171.49 L1476.5,1171.49 L1478.5,1171.49 L1480.5,1171.49 L1482.5,1171.49 L1484.5,1171.50 L1486.5,1171.50 L1488.5,1171.50 L1490.5,1171.50 L1492.5,1171.50 L1494.5,1171.50 L1496.5,1171.50 L1498.5,1171.50 L1500.5,1171.50 L1502.5,1171.50 L1504.5,1171.50 L1506.5,1171.50 L1508.5,1171.50 L1510.5,1171.50 L1512.5,1171.50 L1514.5,1171.50 L1516.5,1171.50 L1518.5,1171.50 L1520.5,1171.50 L1522.5,1171.50 L1524.5,1171.50 L1526.5,1171.50 L1528.5,1171.50 L1530.5,1171.50 L1532.5,1171.50 L1534.5,1171.50 L1536.5,1171.50 L1538.5,1171.50 L1540.5,1171.50 L1542.5,1171.50 L1544.5,1171.50 L1546.5,1171.50 L1548.5,1171.50 L1550.5,1171.50 L1552.5,1171.50 L1554.5,1171.50 L1556.5,1171.50 L1558.5,1171.50 L1560.5,1171.50 L1562.5,1171.50 L1564.5,1171.50 L1566.5,1171.50 L1568.5,1171.50 L1570.5,1171.50 L1572.5,1171.50 L1574.5,1171.50 L1576.5,1171.50 L1578.5,1171.50 L1580.5,1171.50 L1582.5,1171.50 L1584.5,1171.50 L1586.5,1171.50 L1588.5,1171.50 L1590.5,1171.50 L1592.5,1171.50 L1594.5,1171.50 L1596.5,1171.50 L1598.5,1171.50 L1600.5,1171.50 L1602.5,1171.50 L1604.5,1171.50 L1606.5,1171.50 L1608.5,1171.50 L1610.5,1171.50 L1612.5,1171.50 L1614.5,1171.50 L1616.5,1171.50 L1618.5,1171.50 L1620.5,1171.50 L1622.5,1171.50 L1624.5,1171.50 L1626.5,1171.50 L1628.5,1171.50 L1630.5,1171.50 L1632.5,1171.50 L1634.5,1171.50 L1636.5,1171.50 L1638.5,1171.50 L1640.5,1171.50 L1642.5,1171.50 L1644.5,1171.50 L1646.5,1171.50 L1648.5,1171.50 L1650.5,1171.50 L1652.5,1171.50 L1654.5,1171.50 L1656.5,1171.50 L1658.5,1171.50 L1660.5,1171.50 L1662.5,1171.50 L1664.5,1171.50 L1666.5,1171.50 L1668.5,1171.50 L1670.5,1171.50 L1672.5,1171.50 L1674.5,1171.50 L1676.5,1171.50 L1678.5,1171.50 L1680.5,1171.50 L1682.5,1171.50 L1684.5,1171.50 L1686.5,1171.50 L1688.5,1171.50 L1690.5,1171.50 L1692.5,1171.50 L1694.5,1171.50 L1696.5,1171.50 L1698.5,1171.50 L1700.5,1171.50 L1702.5,1171.50 L1704.5,1171.50 L1706.5,1171.50 L1708.5,1171.50 L1710.5,1171.50 L1712.5,1171.50 L1714.5,1171.50 L1716.5,1171.50" fill="none" stroke="#22a05a" stroke-width="2.6" stroke-linejoin="round"/>
<path d="M136.5,1169.29 L138.5,1169.29 L140.5,1169.29 L142.5,1169.28 L144.5,1169.28 L146.5,1169.28 L148.5,1169.28 L150.5,1169.28 L152.5,1169.28 L154.5,1169.28 L156.5,1169.28 L158.5,1169.28 L160.5,1169.28 L162.5,1169.28 L164.5,1169.28 L166.5,1169.27 L168.5,1169.27 L170.5,1169.27 L172.5,1169.27 L174.5,1169.27 L176.5,1169.27 L178.5,1169.27 L180.5,1169.27 L182.5,1169.27 L184.5,1169.26 L186.5,1169.26 L188.5,1169.26 L190.5,1169.26 L192.5,1169.26 L194.5,1169.26 L196.5,1169.25 L198.5,1169.25 L200.5,1169.25 L202.5,1169.25 L204.5,1169.25 L206.5,1169.24 L208.5,1169.24 L210.5,1169.24 L212.5,1169.24 L214.5,1169.24 L216.5,1169.23 L218.5,1169.23 L220.5,1169.23 L222.5,1169.23 L224.5,1169.22 L226.5,1169.22 L228.5,1169.22 L230.5,1169.21 L232.5,1169.21 L234.5,1169.21 L236.5,1169.20 L238.5,1169.20 L240.5,1169.20 L242.5,1169.19 L244.5,1169.19 L246.5,1169.18 L248.5,1169.18 L250.5,1169.17 L252.5,1169.17 L254.5,1169.17 L256.5,1169.16 L258.5,1169.16 L260.5,1169.15 L262.5,1169.15 L264.5,1169.14 L266.5,1169.13 L268.5,1169.13 L270.5,1169.12 L272.5,1169.12 L274.5,1169.11 L276.5,1169.10 L278.5,1169.10 L280.5,1169.09 L282.5,1169.08 L284.5,1169.07 L286.5,1169.07 L288.5,1169.06 L290.5,1169.05 L292.5,1169.04 L294.5,1169.03 L296.5,1169.02 L298.5,1169.01 L300.5,1169.00 L302.5,1168.99 L304.5,1168.98 L306.5,1168.97 L308.5,1168.96 L310.5,1168.95 L312.5,1168.94 L314.5,1168.93 L316.5,1168.91 L318.5,1168.90 L320.5,1168.89 L322.5,1168.87 L324.5,1168.86 L326.5,1168.85 L328.5,1168.83 L330.5,1168.82 L332.5,1168.80 L334.5,1168.78 L336.5,1168.77 L338.5,1168.75 L340.5,1168.73 L342.5,1168.72 L344.5,1168.70 L346.5,1168.68 L348.5,1168.66 L350.5,1168.64 L352.5,1168.62 L354.5,1168.60 L356.5,1168.57 L358.5,1168.55 L360.5,1168.53 L362.5,1168.51 L364.5,1168.48 L366.5,1168.46 L368.5,1168.43 L370.5,1168.41 L372.5,1168.38 L374.5,1168.35 L376.5,1168.32 L378.5,1168.29 L380.5,1168.26 L382.5,1168.23 L384.5,1168.20 L386.5,1168.17 L388.5,1168.14 L390.5,1168.10 L392.5,1168.07 L394.5,1168.03 L396.5,1168.00 L398.5,1167.96 L400.5,1167.92 L402.5,1167.88 L404.5,1167.84 L406.5,1167.80 L408.5,1167.76 L410.5,1167.71 L412.5,1167.67 L414.5,1167.62 L416.5,1167.58 L418.5,1167.53 L420.5,1167.48 L422.5,1167.43 L424.5,1167.38 L426.5,1167.33 L428.5,1167.28 L430.5,1167.22 L432.5,1167.17 L434.5,1167.11 L436.5,1167.05 L438.5,1166.99 L440.5,1166.93 L442.5,1166.87 L444.5,1166.80 L446.5,1166.74 L448.5,1166.67 L450.5,1166.60 L452.5,1166.53 L454.5,1166.46 L456.5,1166.39 L458.5,1166.31 L460.5,1166.24 L462.5,1166.16 L464.5,1166.08 L466.5,1166.00 L468.5,1165.91 L470.5,1165.83 L472.5,1165.74 L474.5,1165.65 L476.5,1165.56 L478.5,1165.46 L480.5,1165.36 L482.5,1165.26 L484.5,1165.16 L486.5,1165.05 L488.5,1164.94 L490.5,1164.82 L492.5,1164.71 L494.5,1164.58 L496.5,1164.46 L498.5,1164.33 L500.5,1164.19 L502.5,1164.04 L504.5,1163.90 L506.5,1163.74 L508.5,1163.58 L510.5,1163.41 L512.5,1163.23 L514.5,1163.04 L516.5,1162.84 L518.5,1162.64 L520.5,1162.42 L522.5,1162.19 L524.5,1161.94 L526.5,1161.69 L528.5,1161.41 L530.5,1161.13 L532.5,1160.82 L534.5,1160.50 L536.5,1160.16 L538.5,1159.79 L540.5,1159.41 L542.5,1159.00 L544.5,1158.57 L546.5,1158.11 L548.5,1157.63 L550.5,1157.11 L552.5,1156.57 L554.5,1155.99 L556.5,1155.38 L558.5,1154.74 L560.5,1154.05 L562.5,1153.33 L564.5,1152.57 L566.5,1151.77 L568.5,1150.92 L570.5,1150.02 L572.5,1149.08 L574.5,1148.09 L576.5,1147.05 L578.5,1145.95 L580.5,1144.80 L582.5,1143.60 L584.5,1142.33 L586.5,1141.01 L588.5,1139.62 L590.5,1138.17 L592.5,1136.66 L594.5,1135.07 L596.5,1133.42 L598.5,1131.70 L600.5,1129.91 L602.5,1128.05 L604.5,1126.11 L606.5,1124.09 L608.5,1122.00 L610.5,1119.83 L612.5,1117.58 L614.5,1115.24 L616.5,1112.83 L618.5,1110.33 L620.5,1107.75 L622.5,1105.09 L624.5,1102.34 L626.5,1099.50 L628.5,1096.57 L630.5,1093.56 L632.5,1090.46 L634.5,1087.26 L636.5,1083.98 L638.5,1080.61 L640.5,1077.15 L642.5,1073.59 L644.5,1069.95 L646.5,1066.21 L648.5,1062.38 L650.5,1058.46 L652.5,1054.45 L654.5,1050.35 L656.5,1046.16 L658.5,1041.87 L660.5,1037.49 L662.5,1033.03 L664.5,1028.47 L666.5,1023.82 L668.5,1019.08 L670.5,1014.26 L672.5,1009.34 L674.5,1004.34 L676.5,999.25 L678.5,994.07 L680.5,988.81 L682.5,983.46 L684.5,978.02 L686.5,972.51 L688.5,966.90 L690.5,961.22 L692.5,955.46 L694.5,949.62 L696.5,943.69 L698.5,937.69 L700.5,931.61 L702.5,925.46 L704.5,919.23 L706.5,912.93 L708.5,906.56 L710.5,900.11 L712.5,893.60 L714.5,887.02 L716.5,880.37 L718.5,873.65 L720.5,866.87 L722.5,860.03 L724.5,853.13 L726.5,846.16 L728.5,839.14 L730.5,832.06 L732.5,824.93 L734.5,817.74 L736.5,810.50 L738.5,803.22 L740.5,795.88 L742.5,788.50 L744.5,781.07 L746.5,773.60 L748.5,766.08 L750.5,758.53 L752.5,750.95 L754.5,743.32 L756.5,735.66 L758.5,727.98 L760.5,720.26 L762.5,712.51 L764.5,704.74 L766.5,696.95 L768.5,689.14 L770.5,681.31 L772.5,673.46 L774.5,665.60 L776.5,657.72 L778.5,649.84 L780.5,641.95 L782.5,634.06 L784.5,626.16 L786.5,618.27 L788.5,610.38 L790.5,602.49 L792.5,594.61 L794.5,586.75 L796.5,578.89 L798.5,571.06 L800.5,563.24 L802.5,555.44 L804.5,547.67 L806.5,539.93 L808.5,532.21 L810.5,524.53 L812.5,516.88 L814.5,509.27 L816.5,501.71 L818.5,494.19 L820.5,486.71 L822.5,479.29 L824.5,471.92 L826.5,464.60 L828.5,457.35 L830.5,450.15 L832.5,443.03 L834.5,435.97 L836.5,428.98 L838.5,422.06 L840.5,415.23 L842.5,408.47 L844.5,401.79 L846.5,395.21 L848.5,388.71 L850.5,382.30 L852.5,375.99 L854.5,369.78 L856.5,363.67 L858.5,357.66 L860.5,351.76 L862.5,345.97 L864.5,340.29 L866.5,334.72 L868.5,329.28 L870.5,323.95 L872.5,318.75 L874.5,313.68 L876.5,308.73 L878.5,303.91 L880.5,299.23 L882.5,294.68 L884.5,290.28 L886.5,286.01 L888.5,281.89 L890.5,277.91 L892.5,274.08 L894.5,270.39 L896.5,266.86 L898.5,263.49 L900.5,260.27 L902.5,257.20 L904.5,254.29 L906.5,251.55 L908.5,248.97 L910.5,246.55 L912.5,244.29 L914.5,242.20 L916.5,240.28 L918.5,238.53 L920.5,236.94 L922.5,235.53 L924.5,234.28 L926.5,233.21 L928.5,232.32 L930.5,231.59 L932.5,231.04 L934.5,230.66 L936.5,230.46 L938.5,230.43 L940.5,230.57 L942.5,230.90 L944.5,231.39 L946.5,232.06 L948.5,232.91 L950.5,233.93 L952.5,235.12 L954.5,236.48 L956.5,238.02 L958.5,239.73 L960.5,241.61 L962.5,243.66 L964.5,245.87 L966.5,248.26 L968.5,250.81 L970.5,253.52 L972.5,256.40 L974.5,259.44 L976.5,262.63 L978.5,265.99 L980.5,269.51 L982.5,273.17 L984.5,276.99 L986.5,280.96 L988.5,285.08 L990.5,289.35 L992.5,293.76 L994.5,298.31 L996.5,303.01 L998.5,307.84 L1000.5,312.80 L1002.5,317.90 L1004.5,323.12 L1006.5,328.48 L1008.5,333.95 L1010.5,339.55 L1012.5,345.27 L1014.5,351.11 L1016.5,357.06 L1018.5,363.11 L1020.5,369.28 L1022.5,375.55 L1024.5,381.92 L1026.5,388.40 L1028.5,394.96 L1030.5,401.62 L1032.5,408.37 L1034.5,415.21 L1036.5,422.13 L1038.5,429.13 L1040.5,436.20 L1042.5,443.35 L1044.5,450.58 L1046.5,457.87 L1048.5,465.22 L1050.5,472.64 L1052.5,480.12 L1054.5,487.65 L1056.5,495.23 L1058.5,502.87 L1060.5,510.55 L1062.5,518.27 L1064.5,526.04 L1066.5,533.84 L1068.5,541.67 L1070.5,549.54 L1072.5,557.44 L1074.5,565.36 L1076.5,573.30 L1078.5,581.27 L1080.5,589.25 L1082.5,597.25 L1084.5,605.25 L1086.5,613.27 L1088.5,621.29 L1090.5,629.31 L1092.5,637.34 L1094.5,645.36 L1096.5,653.38 L1098.5,661.39 L1100.5,669.39 L1102.5,677.37 L1104.5,685.35 L1106.5,693.30 L1108.5,701.24 L1110.5,709.15 L1112.5,717.04 L1114.5,724.90 L1116.5,732.73 L1118.5,740.54 L1120.5,748.30 L1122.5,756.04 L1124.5,763.73 L1126.5,771.39 L1128.5,779.00 L1130.5,786.57 L1132.5,794.09 L1134.5,801.57 L1136.5,808.99 L1138.5,816.36 L1140.5,823.69 L1142.5,830.95 L1144.5,838.16 L1146.5,845.31 L1148.5,852.40 L1150.5,859.42 L1152.5,866.39 L1154.5,873.29 L1156.5,880.12 L1158.5,886.88 L1160.5,893.57 L1162.5,900.19 L1164.5,906.74 L1166.5,913.22 L1168.5,919.62 L1170.5,925.94 L1172.5,932.19 L1174.5,938.36 L1176.5,944.44 L1178.5,950.45 L1180.5,956.37 L1182.5,962.21 L1184.5,967.97 L1186.5,973.64 L1188.5,979.22 L1190.5,984.72 L1192.5,990.13 L1194.5,995.45 L1196.5,1000.68 L1198.5,1005.82 L1200.5,1010.88 L1202.5,1015.83 L1204.5,1020.70 L1206.5,1025.48 L1208.5,1030.16 L1210.5,1034.75 L1212.5,1039.25 L1214.5,1043.65 L1216.5,1047.96 L1218.5,1052.17 L1220.5,1056.30 L1222.5,1060.32 L1224.5,1064.25 L1226.5,1068.09 L1228.5,1071.84 L1230.5,1075.49 L1232.5,1079.05 L1234.5,1082.51 L1236.5,1085.89 L1238.5,1089.17 L1240.5,1092.36 L1242.5,1095.45 L1244.5,1098.46 L1246.5,1101.38 L1248.5,1104.21 L1250.5,1106.95 L1252.5,1109.60 L1254.5,1112.17 L1256.5,1114.65 L1258.5,1117.05 L1260.5,1119.37 L1262.5,1121.60 L1264.5,1123.76 L1266.5,1125.83 L1268.5,1127.83 L1270.5,1129.75 L1272.5,1131.60 L1274.5,1133.37 L1276.5,1135.07 L1278.5,1136.70 L1280.5,1138.26 L1282.5,1139.76 L1284.5,1141.19 L1286.5,1142.56 L1288.5,1143.86 L1290.5,1145.11 L1292.5,1146.29 L1294.5,1147.42 L1296.5,1148.50 L1298.5,1149.52 L1300.5,1150.50 L1302.5,1151.42 L1304.5,1152.29 L1306.5,1153.12 L1308.5,1153.91 L1310.5,1154.65 L1312.5,1155.36 L1314.5,1156.02 L1316.5,1156.65 L1318.5,1157.25 L1320.5,1157.81 L1322.5,1158.34 L1324.5,1158.83 L1326.5,1159.30 L1328.5,1159.75 L1330.5,1160.16 L1332.5,1160.56 L1334.5,1160.93 L1336.5,1161.27 L1338.5,1161.60 L1340.5,1161.91 L1342.5,1162.20 L1344.5,1162.48 L1346.5,1162.74 L1348.5,1162.98 L1350.5,1163.21 L1352.5,1163.43 L1354.5,1163.63 L1356.5,1163.83 L1358.5,1164.01 L1360.5,1164.19 L1362.5,1164.35 L1364.5,1164.51 L1366.5,1164.66 L1368.5,1164.80 L1370.5,1164.94 L1372.5,1165.07 L1374.5,1165.20 L1376.5,1165.32 L1378.5,1165.43 L1380.5,1165.54 L1382.5,1165.65 L1384.5,1165.75 L1386.5,1165.85 L1388.5,1165.94 L1390.5,1166.04 L1392.5,1166.13 L1394.5,1166.21 L1396.5,1166.30 L1398.5,1166.38 L1400.5,1166.46 L1402.5,1166.53 L1404.5,1166.61 L1406.5,1166.68 L1408.5,1166.75 L1410.5,1166.82 L1412.5,1166.89 L1414.5,1166.95 L1416.5,1167.02 L1418.5,1167.08 L1420.5,1167.14 L1422.5,1167.20 L1424.5,1167.26 L1426.5,1167.31 L1428.5,1167.37 L1430.5,1167.42 L1432.5,1167.47 L1434.5,1167.53 L1436.5,1167.58 L1438.5,1167.62 L1440.5,1167.67 L1442.5,1167.72 L1444.5,1167.76 L1446.5,1167.81 L1448.5,1167.85 L1450.5,1167.89 L1452.5,1167.93 L1454.5,1167.97 L1456.5,1168.01 L1458.5,1168.05 L1460.5,1168.08 L1462.5,1168.12 L1464.5,1168.16 L1466.5,1168.19 L1468.5,1168.22 L1470.5,1168.25 L1472.5,1168.29 L1474.5,1168.32 L1476.5,1168.35 L1478.5,1168.38 L1480.5,1168.40 L1482.5,1168.43 L1484.5,1168.46 L1486.5,1168.48 L1488.5,1168.51 L1490.5,1168.53 L1492.5,1168.56 L1494.5,1168.58 L1496.5,1168.60 L1498.5,1168.62 L1500.5,1168.65 L1502.5,1168.67 L1504.5,1168.69 L1506.5,1168.71 L1508.5,1168.73 L1510.5,1168.74 L1512.5,1168.76 L1514.5,1168.78 L1516.5,1168.80 L1518.5,1168.81 L1520.5,1168.83 L1522.5,1168.84 L1524.5,1168.86 L1526.5,1168.87 L1528.5,1168.89 L1530.5,1168.90 L1532.5,1168.91 L1534.5,1168.93 L1536.5,1168.94 L1538.5,1168.95 L1540.5,1168.96 L1542.5,1168.98 L1544.5,1168.99 L1546.5,1169.00 L1548.5,1169.01 L1550.5,1169.02 L1552.5,1169.03 L1554.5,1169.04 L1556.5,1169.05 L1558.5,1169.05 L1560.5,1169.06 L1562.5,1169.07 L1564.5,1169.08 L1566.5,1169.09 L1568.5,1169.09 L1570.5,1169.10 L1572.5,1169.11 L1574.5,1169.12 L1576.5,1169.12 L1578.5,1169.13 L1580.5,1169.13 L1582.5,1169.14 L1584.5,1169.15 L1586.5,1169.15 L1588.5,1169.16 L1590.5,1169.16 L1592.5,1169.17 L1594.5,1169.17 L1596.5,1169.18 L1598.5,1169.18 L1600.5,1169.19 L1602.5,1169.19 L1604.5,1169.19 L1606.5,1169.20 L1608.5,1169.20 L1610.5,1169.21 L1612.5,1169.21 L1614.5,1169.21 L1616.5,1169.22 L1618.5,1169.22 L1620.5,1169.22 L1622.5,1169.23 L1624.5,1169.23 L1626.5,1169.23 L1628.5,1169.23 L1630.5,1169.24 L1632.5,1169.24 L1634.5,1169.24 L1636.5,1169.24 L1638.5,1169.25 L1640.5,1169.25 L1642.5,1169.25 L1644.5,1169.25 L1646.5,1169.25 L1648.5,1169.26 L1650.5,1169.26 L1652.5,1169.26 L1654.5,1169.26 L1656.5,1169.26 L1658.5,1169.26 L1660.5,1169.27 L1662.5,1169.27 L1664.5,1169.27 L1666.5,1169.27 L1668.5,1169.27 L1670.5,1169.27 L1672.5,1169.27 L1674.5,1169.27 L1676.5,1169.28 L1678.5,1169.28 L1680.5,1169.28 L1682.5,1169.28 L1684.5,1169.28 L1686.5,1169.28 L1688.5,1169.28 L1690.5,1169.28 L1692.5,1169.28 L1694.5,1169.28 L1696.5,1169.28 L1698.5,1169.28 L1700.5,1169.29 L1702.5,1169.29 L1704.5,1169.29 L1706.5,1169.29 L1708.5,1169.29 L1710.5,1169.29 L1712.5,1169.29 L1714.5,1169.29 L1716.5,1169.29" fill="none" stroke="#b060de" stroke-width="2.6" stroke-linejoin="round"/>
</g>
<g id="frame" fill="#000">
<rect x="134" y="28" width="1585" height="2.7"/>
<rect x="134" y="28" width="5" height="1276"/>
<rect x="1714" y="28" width="5" height="1276"/>
<rect x="134" y="1298.7" width="1585" height="5.2"/>
<rect x="134" y="1300" width="5" height="25.6"/><rect x="450" y="1300" width="6" height="25.6"/><rect x="767" y="1300" width="3" height="25.6"/><rect x="1083" y="1300" width="3" height="25.6"/><rect x="1397" y="1300" width="6" height="25.6"/><rect x="1714" y="1300" width="5" height="25.6"/><rect x="292" y="1300" width="5.699999999999989" height="12.6"/><rect x="609" y="1300" width="5" height="12.6"/><rect x="925" y="1300" width="3" height="12.6"/><rect x="1239" y="1300" width="5" height="12.6"/><rect x="1555" y="1300" width="6" height="12.6"/>
</g>
<g class="serif"><text x="137.7" y="0" transform="translate(0,1385.9) scale(1,1.085)" text-anchor="middle">740</text><text x="452.2" y="0" transform="translate(0,1385.9) scale(1,1.085)" text-anchor="middle">745</text><text x="768.2" y="0" transform="translate(0,1385.9) scale(1,1.085)" text-anchor="middle">750</text><text x="1083.4" y="0" transform="translate(0,1385.9) scale(1,1.085)" text-anchor="middle">755</text><text x="1400" y="0" transform="translate(0,1385.9) scale(1,1.085)" text-anchor="middle">760</text><text x="1715" y="0" transform="translate(0,1385.9) scale(1,1.085)" text-anchor="middle">765</text></g>
<g id="legend-lines"><rect x="1211.8" y="172.1" width="122.6" height="2.9" fill="#39414a"/><rect x="1211.8" y="175" width="122.6" height="2.9" fill="#808080"/><rect x="1211.5" y="281.0" width="123.8" height="3" fill="#f2302f"/><rect x="1211.5" y="390.2" width="123.8" height="3" fill="#0a5fde"/><rect x="1211.5" y="499.0" width="123.8" height="3" fill="#22a05a"/><rect x="1211.5" y="608.0" width="123.8" height="3" fill="#b060de"/></g>
<g class="sans" font-size="54.3" stroke="#fff" stroke-width="0.5" paint-order="fill"><text x="1349" y="193.8">Control</text><text x="1349" y="300.4">POSS-0.005</text><text x="1349" y="409.6">POSS-0.01</text><text x="1349" y="518.7">POSS-0.015</text><text x="1349" y="627.6">POSS-0.05</text></g>
<g fill="#fff"><rect x="1596.6" y="405.1" width="10.45" height="5.4"/><rect x="1611.95" y="405.1" width="10.3" height="5.4"/><rect x="1596.6" y="514.2" width="10.45" height="5.4"/><rect x="1611.95" y="514.2" width="10.3" height="5.4"/></g>
<text class="sans" font-size="66.5" x="684.1" y="1488.9" stroke="#fff" stroke-width="0.9" paint-order="fill">Wavelength(nm)</text>
<text class="sans" font-size="65.3" transform="translate(77,736.4) rotate(-90)" stroke="#fff" stroke-width="1" paint-order="fill" x="0" y="0">Intensity</text>
</svg>
</body></html>
